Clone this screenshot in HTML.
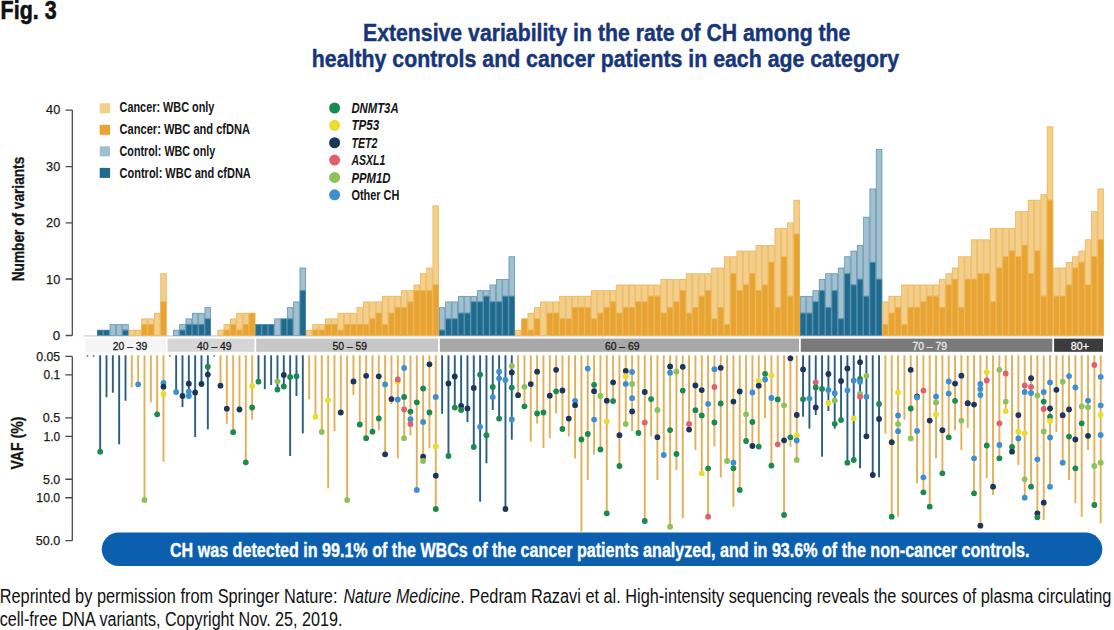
<!DOCTYPE html><html><head><meta charset="utf-8"><style>html,body{margin:0;padding:0;background:#fff;width:1114px;height:630px;overflow:hidden}svg{display:block}text{font-family:"Liberation Sans",sans-serif}</style></head><body>
<svg width="1114" height="630" viewBox="0 0 1114 630">
<rect width="1114" height="630" fill="#fff"/>
<text x="0.60" y="18.90" font-size="26.2" font-weight="bold" font-style="normal" fill="#111" text-anchor="start" textLength="56.00" lengthAdjust="spacingAndGlyphs" stroke="#111" stroke-width="0.6">Fig. 3</text>
<text x="363.00" y="40.80" font-size="24.5" font-weight="bold" font-style="normal" fill="#173679" text-anchor="start" textLength="487.40" lengthAdjust="spacingAndGlyphs" stroke="#173679" stroke-width="0.45">Extensive variability in the rate of CH among the</text>
<text x="311.80" y="66.50" font-size="24.5" font-weight="bold" font-style="normal" fill="#173679" text-anchor="start" textLength="587.30" lengthAdjust="spacingAndGlyphs" stroke="#173679" stroke-width="0.45">healthy controls and cancer patients in each age category</text>
<rect x="99.7" y="103.25" width="10.4" height="10.0" fill="#f3cf8b"/>
<text x="119.60" y="111.70" font-size="13.8" font-weight="bold" font-style="normal" fill="#151515" text-anchor="start" textLength="94.80" lengthAdjust="spacingAndGlyphs">Cancer: WBC only</text>
<rect x="99.7" y="124.80" width="10.4" height="10.0" fill="#e8a330"/>
<text x="119.60" y="133.75" font-size="13.8" font-weight="bold" font-style="normal" fill="#151515" text-anchor="start" textLength="130.40" lengthAdjust="spacingAndGlyphs">Cancer: WBC and cfDNA</text>
<rect x="99.7" y="146.35" width="10.4" height="10.0" fill="#a0bfcf"/>
<text x="119.60" y="155.80" font-size="13.8" font-weight="bold" font-style="normal" fill="#151515" text-anchor="start" textLength="95.60" lengthAdjust="spacingAndGlyphs">Control: WBC only</text>
<rect x="99.7" y="167.90" width="10.4" height="10.0" fill="#1f6a8f"/>
<text x="119.60" y="177.85" font-size="13.8" font-weight="bold" font-style="normal" fill="#151515" text-anchor="start" textLength="131.20" lengthAdjust="spacingAndGlyphs">Control: WBC and cfDNA</text>
<circle cx="334.6" cy="108.00" r="5.5" fill="#1b8a4f"/>
<text x="351.40" y="112.70" font-size="15.0" font-weight="bold" font-style="italic" fill="#151515" text-anchor="start" textLength="47.20" lengthAdjust="spacingAndGlyphs">DNMT3A</text>
<circle cx="334.6" cy="125.37" r="5.5" fill="#e9dc2e"/>
<text x="351.40" y="130.15" font-size="15.0" font-weight="bold" font-style="italic" fill="#151515" text-anchor="start" textLength="27.80" lengthAdjust="spacingAndGlyphs">TP53</text>
<circle cx="334.6" cy="142.74" r="5.5" fill="#1c3558"/>
<text x="351.40" y="147.60" font-size="15.0" font-weight="bold" font-style="italic" fill="#151515" text-anchor="start" textLength="26.00" lengthAdjust="spacingAndGlyphs">TET2</text>
<circle cx="334.6" cy="160.11" r="5.5" fill="#e2606e"/>
<text x="351.40" y="165.05" font-size="15.0" font-weight="bold" font-style="italic" fill="#151515" text-anchor="start" textLength="33.90" lengthAdjust="spacingAndGlyphs">ASXL1</text>
<circle cx="334.6" cy="177.48" r="5.5" fill="#8dc159"/>
<text x="351.40" y="182.50" font-size="15.0" font-weight="bold" font-style="italic" fill="#151515" text-anchor="start" textLength="39.10" lengthAdjust="spacingAndGlyphs">PPM1D</text>
<circle cx="334.6" cy="194.85" r="5.5" fill="#3d8fcf"/>
<text x="351.40" y="199.95" font-size="15.0" font-weight="bold" font-style="normal" fill="#151515" text-anchor="start" textLength="47.90" lengthAdjust="spacingAndGlyphs">Other CH</text>
<path d="M72.3 110.1 V335.5 M65.6 110.1 H72.3 M65.6 166.6 H72.3 M65.6 222.8 H72.3 M65.6 279 H72.3 M65.6 335.5 H72.3" stroke="#4a4a4a" stroke-width="1.3" fill="none"/>
<text x="60.20" y="340.20" font-size="13.6" font-weight="normal" font-style="normal" fill="#1a1a1a" text-anchor="end" textLength="7.40" lengthAdjust="spacingAndGlyphs" stroke="#1a1a1a" stroke-width="0.25">0</text>
<text x="60.20" y="283.70" font-size="13.6" font-weight="normal" font-style="normal" fill="#1a1a1a" text-anchor="end" textLength="14.10" lengthAdjust="spacingAndGlyphs" stroke="#1a1a1a" stroke-width="0.25">10</text>
<text x="60.20" y="227.20" font-size="13.6" font-weight="normal" font-style="normal" fill="#1a1a1a" text-anchor="end" textLength="14.10" lengthAdjust="spacingAndGlyphs" stroke="#1a1a1a" stroke-width="0.25">20</text>
<text x="60.20" y="170.70" font-size="13.6" font-weight="normal" font-style="normal" fill="#1a1a1a" text-anchor="end" textLength="14.10" lengthAdjust="spacingAndGlyphs" stroke="#1a1a1a" stroke-width="0.25">30</text>
<text x="60.20" y="114.20" font-size="13.6" font-weight="normal" font-style="normal" fill="#1a1a1a" text-anchor="end" textLength="14.10" lengthAdjust="spacingAndGlyphs" stroke="#1a1a1a" stroke-width="0.25">40</text>
<text transform="translate(23.6,219) rotate(-90)" x="0" y="0" font-size="16.8" font-weight="bold" fill="#151515" stroke="#151515" stroke-width="0.3" text-anchor="middle" textLength="124.5" lengthAdjust="spacingAndGlyphs">Number of variants</text>
<rect x="84" y="335.3" width="1020" height="1.2" fill="#c9c9c9"/>
<g shape-rendering="auto"><rect x="97.00" y="329.85" width="6.332" height="5.65" fill="#1f6a8f"/><rect x="103.33" y="329.85" width="6.332" height="5.65" fill="#1f6a8f"/><rect x="109.66" y="324.20" width="6.332" height="11.30" fill="#a0bfcf"/><rect x="116.00" y="324.20" width="6.332" height="11.30" fill="#a0bfcf"/><rect x="122.33" y="324.20" width="6.332" height="5.65" fill="#a0bfcf"/><rect x="122.33" y="329.85" width="6.332" height="5.65" fill="#1f6a8f"/><rect x="128.66" y="329.85" width="6.332" height="5.65" fill="#f3cf8b"/><rect x="134.99" y="329.85" width="6.332" height="5.65" fill="#f3cf8b"/><rect x="141.33" y="318.55" width="6.332" height="5.65" fill="#f3cf8b"/><rect x="141.33" y="324.20" width="6.332" height="11.30" fill="#e8a330"/><rect x="147.66" y="318.55" width="6.332" height="5.65" fill="#f3cf8b"/><rect x="147.66" y="324.20" width="6.332" height="11.30" fill="#e8a330"/><rect x="153.99" y="312.90" width="6.332" height="22.60" fill="#f3cf8b"/><rect x="160.32" y="273.35" width="6.332" height="28.25" fill="#f3cf8b"/><rect x="160.32" y="301.60" width="6.332" height="33.90" fill="#e8a330"/><rect x="172.99" y="329.85" width="6.332" height="5.65" fill="#a0bfcf"/><rect x="179.32" y="324.20" width="6.332" height="5.65" fill="#a0bfcf"/><rect x="179.32" y="329.85" width="6.332" height="5.65" fill="#1f6a8f"/><rect x="185.65" y="318.55" width="6.332" height="5.65" fill="#a0bfcf"/><rect x="185.65" y="324.20" width="6.332" height="11.30" fill="#1f6a8f"/><rect x="191.99" y="312.90" width="6.332" height="11.30" fill="#a0bfcf"/><rect x="191.99" y="324.20" width="6.332" height="11.30" fill="#1f6a8f"/><rect x="198.32" y="312.90" width="6.332" height="11.30" fill="#a0bfcf"/><rect x="198.32" y="324.20" width="6.332" height="11.30" fill="#1f6a8f"/><rect x="204.65" y="307.25" width="6.332" height="11.30" fill="#a0bfcf"/><rect x="204.65" y="318.55" width="6.332" height="16.95" fill="#1f6a8f"/><rect x="217.32" y="329.85" width="6.332" height="5.65" fill="#f3cf8b"/><rect x="223.65" y="324.20" width="6.332" height="5.65" fill="#f3cf8b"/><rect x="223.65" y="329.85" width="6.332" height="5.65" fill="#e8a330"/><rect x="229.98" y="318.55" width="6.332" height="5.65" fill="#f3cf8b"/><rect x="229.98" y="324.20" width="6.332" height="11.30" fill="#e8a330"/><rect x="236.31" y="312.90" width="6.332" height="16.95" fill="#f3cf8b"/><rect x="236.31" y="329.85" width="6.332" height="5.65" fill="#e8a330"/><rect x="242.65" y="312.90" width="6.332" height="11.30" fill="#f3cf8b"/><rect x="242.65" y="324.20" width="6.332" height="11.30" fill="#e8a330"/><rect x="248.98" y="312.90" width="6.332" height="22.60" fill="#e8a330"/><rect x="255.31" y="324.20" width="6.332" height="11.30" fill="#1f6a8f"/><rect x="261.64" y="324.20" width="6.332" height="11.30" fill="#1f6a8f"/><rect x="267.98" y="324.20" width="6.332" height="11.30" fill="#1f6a8f"/><rect x="274.31" y="318.55" width="6.332" height="16.95" fill="#a0bfcf"/><rect x="280.64" y="318.55" width="6.332" height="16.95" fill="#1f6a8f"/><rect x="286.97" y="307.25" width="6.332" height="11.30" fill="#a0bfcf"/><rect x="286.97" y="318.55" width="6.332" height="16.95" fill="#1f6a8f"/><rect x="293.31" y="301.60" width="6.332" height="33.90" fill="#a0bfcf"/><rect x="299.64" y="267.70" width="6.332" height="22.60" fill="#a0bfcf"/><rect x="299.64" y="290.30" width="6.332" height="45.20" fill="#1f6a8f"/><rect x="305.97" y="329.85" width="6.332" height="5.65" fill="#f3cf8b"/><rect x="312.30" y="324.20" width="6.332" height="5.65" fill="#f3cf8b"/><rect x="312.30" y="329.85" width="6.332" height="5.65" fill="#e8a330"/><rect x="318.64" y="324.20" width="6.332" height="5.65" fill="#f3cf8b"/><rect x="318.64" y="329.85" width="6.332" height="5.65" fill="#e8a330"/><rect x="324.97" y="318.55" width="6.332" height="5.65" fill="#f3cf8b"/><rect x="324.97" y="324.20" width="6.332" height="11.30" fill="#e8a330"/><rect x="331.30" y="318.55" width="6.332" height="5.65" fill="#f3cf8b"/><rect x="331.30" y="324.20" width="6.332" height="11.30" fill="#e8a330"/><rect x="337.63" y="312.90" width="6.332" height="16.95" fill="#f3cf8b"/><rect x="337.63" y="329.85" width="6.332" height="5.65" fill="#e8a330"/><rect x="343.97" y="312.90" width="6.332" height="11.30" fill="#f3cf8b"/><rect x="343.97" y="324.20" width="6.332" height="11.30" fill="#e8a330"/><rect x="350.30" y="312.90" width="6.332" height="11.30" fill="#f3cf8b"/><rect x="350.30" y="324.20" width="6.332" height="11.30" fill="#e8a330"/><rect x="356.63" y="307.25" width="6.332" height="16.95" fill="#f3cf8b"/><rect x="356.63" y="324.20" width="6.332" height="11.30" fill="#e8a330"/><rect x="362.96" y="301.60" width="6.332" height="22.60" fill="#f3cf8b"/><rect x="362.96" y="324.20" width="6.332" height="11.30" fill="#e8a330"/><rect x="369.30" y="301.60" width="6.332" height="16.95" fill="#f3cf8b"/><rect x="369.30" y="318.55" width="6.332" height="16.95" fill="#e8a330"/><rect x="375.63" y="301.60" width="6.332" height="11.30" fill="#f3cf8b"/><rect x="375.63" y="312.90" width="6.332" height="22.60" fill="#e8a330"/><rect x="381.96" y="295.95" width="6.332" height="28.25" fill="#f3cf8b"/><rect x="381.96" y="324.20" width="6.332" height="11.30" fill="#e8a330"/><rect x="388.29" y="295.95" width="6.332" height="16.95" fill="#f3cf8b"/><rect x="388.29" y="312.90" width="6.332" height="22.60" fill="#e8a330"/><rect x="394.63" y="295.95" width="6.332" height="11.30" fill="#f3cf8b"/><rect x="394.63" y="307.25" width="6.332" height="28.25" fill="#e8a330"/><rect x="400.96" y="290.30" width="6.332" height="16.95" fill="#f3cf8b"/><rect x="400.96" y="307.25" width="6.332" height="28.25" fill="#e8a330"/><rect x="407.29" y="290.30" width="6.332" height="11.30" fill="#f3cf8b"/><rect x="407.29" y="301.60" width="6.332" height="33.90" fill="#e8a330"/><rect x="413.62" y="284.65" width="6.332" height="5.65" fill="#f3cf8b"/><rect x="413.62" y="290.30" width="6.332" height="45.20" fill="#e8a330"/><rect x="419.96" y="273.35" width="6.332" height="16.95" fill="#f3cf8b"/><rect x="419.96" y="290.30" width="6.332" height="45.20" fill="#e8a330"/><rect x="426.29" y="267.70" width="6.332" height="22.60" fill="#f3cf8b"/><rect x="426.29" y="290.30" width="6.332" height="45.20" fill="#e8a330"/><rect x="432.62" y="205.55" width="6.332" height="79.10" fill="#f3cf8b"/><rect x="432.62" y="284.65" width="6.332" height="50.85" fill="#e8a330"/><rect x="438.95" y="307.25" width="6.332" height="22.60" fill="#a0bfcf"/><rect x="438.95" y="329.85" width="6.332" height="5.65" fill="#1f6a8f"/><rect x="445.29" y="301.60" width="6.332" height="16.95" fill="#a0bfcf"/><rect x="445.29" y="318.55" width="6.332" height="16.95" fill="#1f6a8f"/><rect x="451.62" y="301.60" width="6.332" height="16.95" fill="#a0bfcf"/><rect x="451.62" y="318.55" width="6.332" height="16.95" fill="#1f6a8f"/><rect x="457.95" y="295.95" width="6.332" height="16.95" fill="#a0bfcf"/><rect x="457.95" y="312.90" width="6.332" height="22.60" fill="#1f6a8f"/><rect x="464.28" y="295.95" width="6.332" height="16.95" fill="#a0bfcf"/><rect x="464.28" y="312.90" width="6.332" height="22.60" fill="#1f6a8f"/><rect x="470.62" y="295.95" width="6.332" height="5.65" fill="#a0bfcf"/><rect x="470.62" y="301.60" width="6.332" height="33.90" fill="#1f6a8f"/><rect x="476.95" y="290.30" width="6.332" height="11.30" fill="#a0bfcf"/><rect x="476.95" y="301.60" width="6.332" height="33.90" fill="#1f6a8f"/><rect x="483.28" y="290.30" width="6.332" height="5.65" fill="#a0bfcf"/><rect x="483.28" y="295.95" width="6.332" height="39.55" fill="#1f6a8f"/><rect x="489.61" y="284.65" width="6.332" height="16.95" fill="#a0bfcf"/><rect x="489.61" y="301.60" width="6.332" height="33.90" fill="#1f6a8f"/><rect x="495.95" y="279.00" width="6.332" height="22.60" fill="#a0bfcf"/><rect x="495.95" y="301.60" width="6.332" height="33.90" fill="#1f6a8f"/><rect x="502.28" y="279.00" width="6.332" height="16.95" fill="#a0bfcf"/><rect x="502.28" y="295.95" width="6.332" height="39.55" fill="#1f6a8f"/><rect x="508.61" y="256.40" width="6.332" height="39.55" fill="#a0bfcf"/><rect x="508.61" y="295.95" width="6.332" height="39.55" fill="#1f6a8f"/><rect x="514.94" y="329.85" width="6.332" height="5.65" fill="#f3cf8b"/><rect x="521.28" y="318.55" width="6.332" height="16.95" fill="#e8a330"/><rect x="527.61" y="312.90" width="6.332" height="16.95" fill="#f3cf8b"/><rect x="527.61" y="329.85" width="6.332" height="5.65" fill="#e8a330"/><rect x="533.94" y="307.25" width="6.332" height="11.30" fill="#f3cf8b"/><rect x="533.94" y="318.55" width="6.332" height="16.95" fill="#e8a330"/><rect x="540.27" y="301.60" width="6.332" height="33.90" fill="#f3cf8b"/><rect x="546.61" y="301.60" width="6.332" height="11.30" fill="#f3cf8b"/><rect x="546.61" y="312.90" width="6.332" height="22.60" fill="#e8a330"/><rect x="552.94" y="301.60" width="6.332" height="11.30" fill="#f3cf8b"/><rect x="552.94" y="312.90" width="6.332" height="22.60" fill="#e8a330"/><rect x="559.27" y="295.95" width="6.332" height="22.60" fill="#f3cf8b"/><rect x="559.27" y="318.55" width="6.332" height="16.95" fill="#e8a330"/><rect x="565.60" y="295.95" width="6.332" height="22.60" fill="#f3cf8b"/><rect x="565.60" y="318.55" width="6.332" height="16.95" fill="#e8a330"/><rect x="571.94" y="295.95" width="6.332" height="11.30" fill="#f3cf8b"/><rect x="571.94" y="307.25" width="6.332" height="28.25" fill="#e8a330"/><rect x="578.27" y="295.95" width="6.332" height="11.30" fill="#f3cf8b"/><rect x="578.27" y="307.25" width="6.332" height="28.25" fill="#e8a330"/><rect x="584.60" y="295.95" width="6.332" height="11.30" fill="#f3cf8b"/><rect x="584.60" y="307.25" width="6.332" height="28.25" fill="#e8a330"/><rect x="590.93" y="290.30" width="6.332" height="28.25" fill="#f3cf8b"/><rect x="590.93" y="318.55" width="6.332" height="16.95" fill="#e8a330"/><rect x="597.27" y="290.30" width="6.332" height="22.60" fill="#f3cf8b"/><rect x="597.27" y="312.90" width="6.332" height="22.60" fill="#e8a330"/><rect x="603.60" y="290.30" width="6.332" height="16.95" fill="#f3cf8b"/><rect x="603.60" y="307.25" width="6.332" height="28.25" fill="#e8a330"/><rect x="609.93" y="290.30" width="6.332" height="11.30" fill="#f3cf8b"/><rect x="609.93" y="301.60" width="6.332" height="33.90" fill="#e8a330"/><rect x="616.26" y="284.65" width="6.332" height="28.25" fill="#f3cf8b"/><rect x="616.26" y="312.90" width="6.332" height="22.60" fill="#e8a330"/><rect x="622.60" y="284.65" width="6.332" height="22.60" fill="#f3cf8b"/><rect x="622.60" y="307.25" width="6.332" height="28.25" fill="#e8a330"/><rect x="628.93" y="284.65" width="6.332" height="22.60" fill="#f3cf8b"/><rect x="628.93" y="307.25" width="6.332" height="28.25" fill="#e8a330"/><rect x="635.26" y="284.65" width="6.332" height="16.95" fill="#f3cf8b"/><rect x="635.26" y="301.60" width="6.332" height="33.90" fill="#e8a330"/><rect x="641.59" y="284.65" width="6.332" height="16.95" fill="#f3cf8b"/><rect x="641.59" y="301.60" width="6.332" height="33.90" fill="#e8a330"/><rect x="647.93" y="284.65" width="6.332" height="11.30" fill="#f3cf8b"/><rect x="647.93" y="295.95" width="6.332" height="39.55" fill="#e8a330"/><rect x="654.26" y="284.65" width="6.332" height="11.30" fill="#f3cf8b"/><rect x="654.26" y="295.95" width="6.332" height="39.55" fill="#e8a330"/><rect x="660.59" y="279.00" width="6.332" height="33.90" fill="#f3cf8b"/><rect x="660.59" y="312.90" width="6.332" height="22.60" fill="#e8a330"/><rect x="666.92" y="279.00" width="6.332" height="28.25" fill="#f3cf8b"/><rect x="666.92" y="307.25" width="6.332" height="28.25" fill="#e8a330"/><rect x="673.26" y="279.00" width="6.332" height="22.60" fill="#f3cf8b"/><rect x="673.26" y="301.60" width="6.332" height="33.90" fill="#e8a330"/><rect x="679.59" y="279.00" width="6.332" height="11.30" fill="#f3cf8b"/><rect x="679.59" y="290.30" width="6.332" height="45.20" fill="#e8a330"/><rect x="685.92" y="273.35" width="6.332" height="39.55" fill="#f3cf8b"/><rect x="685.92" y="312.90" width="6.332" height="22.60" fill="#e8a330"/><rect x="692.25" y="273.35" width="6.332" height="33.90" fill="#f3cf8b"/><rect x="692.25" y="307.25" width="6.332" height="28.25" fill="#e8a330"/><rect x="698.59" y="273.35" width="6.332" height="22.60" fill="#f3cf8b"/><rect x="698.59" y="295.95" width="6.332" height="39.55" fill="#e8a330"/><rect x="704.92" y="273.35" width="6.332" height="16.95" fill="#f3cf8b"/><rect x="704.92" y="290.30" width="6.332" height="45.20" fill="#e8a330"/><rect x="711.25" y="267.70" width="6.332" height="50.85" fill="#f3cf8b"/><rect x="711.25" y="318.55" width="6.332" height="16.95" fill="#e8a330"/><rect x="717.58" y="267.70" width="6.332" height="39.55" fill="#f3cf8b"/><rect x="717.58" y="307.25" width="6.332" height="28.25" fill="#e8a330"/><rect x="723.92" y="256.40" width="6.332" height="67.80" fill="#f3cf8b"/><rect x="723.92" y="324.20" width="6.332" height="11.30" fill="#e8a330"/><rect x="730.25" y="256.40" width="6.332" height="16.95" fill="#f3cf8b"/><rect x="730.25" y="273.35" width="6.332" height="62.15" fill="#e8a330"/><rect x="736.58" y="250.75" width="6.332" height="39.55" fill="#f3cf8b"/><rect x="736.58" y="290.30" width="6.332" height="45.20" fill="#e8a330"/><rect x="742.91" y="250.75" width="6.332" height="33.90" fill="#f3cf8b"/><rect x="742.91" y="284.65" width="6.332" height="50.85" fill="#e8a330"/><rect x="749.25" y="250.75" width="6.332" height="22.60" fill="#f3cf8b"/><rect x="749.25" y="273.35" width="6.332" height="62.15" fill="#e8a330"/><rect x="755.58" y="245.10" width="6.332" height="45.20" fill="#f3cf8b"/><rect x="755.58" y="290.30" width="6.332" height="45.20" fill="#e8a330"/><rect x="761.91" y="245.10" width="6.332" height="39.55" fill="#f3cf8b"/><rect x="761.91" y="284.65" width="6.332" height="50.85" fill="#e8a330"/><rect x="768.24" y="245.10" width="6.332" height="16.95" fill="#f3cf8b"/><rect x="768.24" y="262.05" width="6.332" height="73.45" fill="#e8a330"/><rect x="774.58" y="228.15" width="6.332" height="79.10" fill="#f3cf8b"/><rect x="774.58" y="307.25" width="6.332" height="28.25" fill="#e8a330"/><rect x="780.91" y="228.15" width="6.332" height="28.25" fill="#f3cf8b"/><rect x="780.91" y="256.40" width="6.332" height="79.10" fill="#e8a330"/><rect x="787.24" y="222.50" width="6.332" height="73.45" fill="#f3cf8b"/><rect x="787.24" y="295.95" width="6.332" height="39.55" fill="#e8a330"/><rect x="793.57" y="199.90" width="6.332" height="33.90" fill="#f3cf8b"/><rect x="793.57" y="233.80" width="6.332" height="101.70" fill="#e8a330"/><rect x="799.91" y="295.95" width="6.332" height="16.95" fill="#a0bfcf"/><rect x="799.91" y="312.90" width="6.332" height="22.60" fill="#1f6a8f"/><rect x="806.24" y="295.95" width="6.332" height="16.95" fill="#a0bfcf"/><rect x="806.24" y="312.90" width="6.332" height="22.60" fill="#1f6a8f"/><rect x="812.57" y="290.30" width="6.332" height="11.30" fill="#a0bfcf"/><rect x="812.57" y="301.60" width="6.332" height="33.90" fill="#1f6a8f"/><rect x="818.90" y="279.00" width="6.332" height="11.30" fill="#a0bfcf"/><rect x="818.90" y="290.30" width="6.332" height="45.20" fill="#1f6a8f"/><rect x="825.24" y="273.35" width="6.332" height="33.90" fill="#a0bfcf"/><rect x="825.24" y="307.25" width="6.332" height="28.25" fill="#1f6a8f"/><rect x="831.57" y="273.35" width="6.332" height="16.95" fill="#a0bfcf"/><rect x="831.57" y="290.30" width="6.332" height="45.20" fill="#1f6a8f"/><rect x="837.90" y="267.70" width="6.332" height="50.85" fill="#a0bfcf"/><rect x="837.90" y="318.55" width="6.332" height="16.95" fill="#1f6a8f"/><rect x="844.23" y="256.40" width="6.332" height="16.95" fill="#a0bfcf"/><rect x="844.23" y="273.35" width="6.332" height="62.15" fill="#1f6a8f"/><rect x="850.57" y="250.75" width="6.332" height="33.90" fill="#a0bfcf"/><rect x="850.57" y="284.65" width="6.332" height="50.85" fill="#1f6a8f"/><rect x="856.90" y="245.10" width="6.332" height="33.90" fill="#a0bfcf"/><rect x="856.90" y="279.00" width="6.332" height="56.50" fill="#1f6a8f"/><rect x="863.23" y="216.85" width="6.332" height="79.10" fill="#a0bfcf"/><rect x="863.23" y="295.95" width="6.332" height="39.55" fill="#1f6a8f"/><rect x="869.56" y="188.60" width="6.332" height="73.45" fill="#a0bfcf"/><rect x="869.56" y="262.05" width="6.332" height="73.45" fill="#1f6a8f"/><rect x="875.90" y="149.05" width="6.332" height="129.95" fill="#a0bfcf"/><rect x="875.90" y="279.00" width="6.332" height="56.50" fill="#1f6a8f"/><rect x="882.23" y="301.60" width="6.332" height="22.60" fill="#f3cf8b"/><rect x="882.23" y="324.20" width="6.332" height="11.30" fill="#e8a330"/><rect x="888.56" y="295.95" width="6.332" height="16.95" fill="#f3cf8b"/><rect x="888.56" y="312.90" width="6.332" height="22.60" fill="#e8a330"/><rect x="894.89" y="295.95" width="6.332" height="11.30" fill="#f3cf8b"/><rect x="894.89" y="307.25" width="6.332" height="28.25" fill="#e8a330"/><rect x="901.23" y="284.65" width="6.332" height="39.55" fill="#f3cf8b"/><rect x="901.23" y="324.20" width="6.332" height="11.30" fill="#e8a330"/><rect x="907.56" y="284.65" width="6.332" height="22.60" fill="#f3cf8b"/><rect x="907.56" y="307.25" width="6.332" height="28.25" fill="#e8a330"/><rect x="913.89" y="284.65" width="6.332" height="22.60" fill="#f3cf8b"/><rect x="913.89" y="307.25" width="6.332" height="28.25" fill="#e8a330"/><rect x="920.22" y="284.65" width="6.332" height="16.95" fill="#f3cf8b"/><rect x="920.22" y="301.60" width="6.332" height="33.90" fill="#e8a330"/><rect x="926.56" y="284.65" width="6.332" height="11.30" fill="#f3cf8b"/><rect x="926.56" y="295.95" width="6.332" height="39.55" fill="#e8a330"/><rect x="932.89" y="284.65" width="6.332" height="11.30" fill="#f3cf8b"/><rect x="932.89" y="295.95" width="6.332" height="39.55" fill="#e8a330"/><rect x="939.22" y="279.00" width="6.332" height="28.25" fill="#f3cf8b"/><rect x="939.22" y="307.25" width="6.332" height="28.25" fill="#e8a330"/><rect x="945.55" y="273.35" width="6.332" height="11.30" fill="#f3cf8b"/><rect x="945.55" y="284.65" width="6.332" height="50.85" fill="#e8a330"/><rect x="951.89" y="267.70" width="6.332" height="11.30" fill="#f3cf8b"/><rect x="951.89" y="279.00" width="6.332" height="56.50" fill="#e8a330"/><rect x="958.22" y="256.40" width="6.332" height="50.85" fill="#f3cf8b"/><rect x="958.22" y="307.25" width="6.332" height="28.25" fill="#e8a330"/><rect x="964.55" y="256.40" width="6.332" height="22.60" fill="#f3cf8b"/><rect x="964.55" y="279.00" width="6.332" height="56.50" fill="#e8a330"/><rect x="970.88" y="239.45" width="6.332" height="39.55" fill="#f3cf8b"/><rect x="970.88" y="279.00" width="6.332" height="56.50" fill="#e8a330"/><rect x="977.22" y="239.45" width="6.332" height="33.90" fill="#f3cf8b"/><rect x="977.22" y="273.35" width="6.332" height="62.15" fill="#e8a330"/><rect x="983.55" y="239.45" width="6.332" height="33.90" fill="#f3cf8b"/><rect x="983.55" y="273.35" width="6.332" height="62.15" fill="#e8a330"/><rect x="989.88" y="228.15" width="6.332" height="73.45" fill="#f3cf8b"/><rect x="989.88" y="301.60" width="6.332" height="33.90" fill="#e8a330"/><rect x="996.21" y="228.15" width="6.332" height="39.55" fill="#f3cf8b"/><rect x="996.21" y="267.70" width="6.332" height="67.80" fill="#e8a330"/><rect x="1002.55" y="228.15" width="6.332" height="28.25" fill="#f3cf8b"/><rect x="1002.55" y="256.40" width="6.332" height="79.10" fill="#e8a330"/><rect x="1008.88" y="228.15" width="6.332" height="22.60" fill="#f3cf8b"/><rect x="1008.88" y="250.75" width="6.332" height="84.75" fill="#e8a330"/><rect x="1015.21" y="211.20" width="6.332" height="45.20" fill="#f3cf8b"/><rect x="1015.21" y="256.40" width="6.332" height="79.10" fill="#e8a330"/><rect x="1021.54" y="211.20" width="6.332" height="33.90" fill="#f3cf8b"/><rect x="1021.54" y="245.10" width="6.332" height="90.40" fill="#e8a330"/><rect x="1027.88" y="199.90" width="6.332" height="73.45" fill="#f3cf8b"/><rect x="1027.88" y="273.35" width="6.332" height="62.15" fill="#e8a330"/><rect x="1034.21" y="199.90" width="6.332" height="50.85" fill="#f3cf8b"/><rect x="1034.21" y="250.75" width="6.332" height="84.75" fill="#e8a330"/><rect x="1040.54" y="194.25" width="6.332" height="101.70" fill="#f3cf8b"/><rect x="1040.54" y="295.95" width="6.332" height="39.55" fill="#e8a330"/><rect x="1046.87" y="126.45" width="6.332" height="73.45" fill="#f3cf8b"/><rect x="1046.87" y="199.90" width="6.332" height="135.60" fill="#e8a330"/><rect x="1053.21" y="267.70" width="6.332" height="28.25" fill="#f3cf8b"/><rect x="1053.21" y="295.95" width="6.332" height="39.55" fill="#e8a330"/><rect x="1059.54" y="267.70" width="6.332" height="28.25" fill="#f3cf8b"/><rect x="1059.54" y="295.95" width="6.332" height="39.55" fill="#e8a330"/><rect x="1065.87" y="262.05" width="6.332" height="22.60" fill="#f3cf8b"/><rect x="1065.87" y="284.65" width="6.332" height="50.85" fill="#e8a330"/><rect x="1072.20" y="256.40" width="6.332" height="11.30" fill="#f3cf8b"/><rect x="1072.20" y="267.70" width="6.332" height="67.80" fill="#e8a330"/><rect x="1078.54" y="250.75" width="6.332" height="11.30" fill="#f3cf8b"/><rect x="1078.54" y="262.05" width="6.332" height="73.45" fill="#e8a330"/><rect x="1084.87" y="239.45" width="6.332" height="45.20" fill="#f3cf8b"/><rect x="1084.87" y="284.65" width="6.332" height="50.85" fill="#e8a330"/><rect x="1091.20" y="211.20" width="6.332" height="45.20" fill="#f3cf8b"/><rect x="1091.20" y="256.40" width="6.332" height="79.10" fill="#e8a330"/><rect x="1097.53" y="188.60" width="6.332" height="50.85" fill="#f3cf8b"/><rect x="1097.53" y="239.45" width="6.332" height="96.05" fill="#e8a330"/></g>
<g><rect x="97.40" y="330.25" width="5.532" height="5.25" fill="none" stroke="#5f93ad" stroke-width="0.8" opacity="0.8"/><rect x="103.73" y="330.25" width="5.532" height="5.25" fill="none" stroke="#5f93ad" stroke-width="0.8" opacity="0.8"/><rect x="110.06" y="324.60" width="5.532" height="10.90" fill="none" stroke="#5f93ad" stroke-width="0.8" opacity="0.8"/><rect x="116.40" y="324.60" width="5.532" height="10.90" fill="none" stroke="#5f93ad" stroke-width="0.8" opacity="0.8"/><rect x="122.73" y="324.60" width="5.532" height="5.25" fill="none" stroke="#5f93ad" stroke-width="0.8" opacity="0.8"/><rect x="122.73" y="330.25" width="5.532" height="5.25" fill="none" stroke="#5f93ad" stroke-width="0.8" opacity="0.8"/><rect x="129.06" y="330.25" width="5.532" height="5.25" fill="none" stroke="#ebb55a" stroke-width="0.8" opacity="0.8"/><rect x="135.39" y="330.25" width="5.532" height="5.25" fill="none" stroke="#ebb55a" stroke-width="0.8" opacity="0.8"/><rect x="141.73" y="318.95" width="5.532" height="5.25" fill="none" stroke="#ebb55a" stroke-width="0.8" opacity="0.8"/><rect x="141.73" y="324.60" width="5.532" height="10.90" fill="none" stroke="#ebb55a" stroke-width="0.8" opacity="0.8"/><rect x="148.06" y="318.95" width="5.532" height="5.25" fill="none" stroke="#ebb55a" stroke-width="0.8" opacity="0.8"/><rect x="148.06" y="324.60" width="5.532" height="10.90" fill="none" stroke="#ebb55a" stroke-width="0.8" opacity="0.8"/><rect x="154.39" y="313.30" width="5.532" height="22.20" fill="none" stroke="#ebb55a" stroke-width="0.8" opacity="0.8"/><rect x="160.72" y="273.75" width="5.532" height="27.85" fill="none" stroke="#ebb55a" stroke-width="0.8" opacity="0.8"/><rect x="160.72" y="302.00" width="5.532" height="33.50" fill="none" stroke="#ebb55a" stroke-width="0.8" opacity="0.8"/><rect x="173.39" y="330.25" width="5.532" height="5.25" fill="none" stroke="#5f93ad" stroke-width="0.8" opacity="0.8"/><rect x="179.72" y="324.60" width="5.532" height="5.25" fill="none" stroke="#5f93ad" stroke-width="0.8" opacity="0.8"/><rect x="179.72" y="330.25" width="5.532" height="5.25" fill="none" stroke="#5f93ad" stroke-width="0.8" opacity="0.8"/><rect x="186.05" y="318.95" width="5.532" height="5.25" fill="none" stroke="#5f93ad" stroke-width="0.8" opacity="0.8"/><rect x="186.05" y="324.60" width="5.532" height="10.90" fill="none" stroke="#5f93ad" stroke-width="0.8" opacity="0.8"/><rect x="192.39" y="313.30" width="5.532" height="10.90" fill="none" stroke="#5f93ad" stroke-width="0.8" opacity="0.8"/><rect x="192.39" y="324.60" width="5.532" height="10.90" fill="none" stroke="#5f93ad" stroke-width="0.8" opacity="0.8"/><rect x="198.72" y="313.30" width="5.532" height="10.90" fill="none" stroke="#5f93ad" stroke-width="0.8" opacity="0.8"/><rect x="198.72" y="324.60" width="5.532" height="10.90" fill="none" stroke="#5f93ad" stroke-width="0.8" opacity="0.8"/><rect x="205.05" y="307.65" width="5.532" height="10.90" fill="none" stroke="#5f93ad" stroke-width="0.8" opacity="0.8"/><rect x="205.05" y="318.95" width="5.532" height="16.55" fill="none" stroke="#5f93ad" stroke-width="0.8" opacity="0.8"/><rect x="217.72" y="330.25" width="5.532" height="5.25" fill="none" stroke="#ebb55a" stroke-width="0.8" opacity="0.8"/><rect x="224.05" y="324.60" width="5.532" height="5.25" fill="none" stroke="#ebb55a" stroke-width="0.8" opacity="0.8"/><rect x="224.05" y="330.25" width="5.532" height="5.25" fill="none" stroke="#ebb55a" stroke-width="0.8" opacity="0.8"/><rect x="230.38" y="318.95" width="5.532" height="5.25" fill="none" stroke="#ebb55a" stroke-width="0.8" opacity="0.8"/><rect x="230.38" y="324.60" width="5.532" height="10.90" fill="none" stroke="#ebb55a" stroke-width="0.8" opacity="0.8"/><rect x="236.71" y="313.30" width="5.532" height="16.55" fill="none" stroke="#ebb55a" stroke-width="0.8" opacity="0.8"/><rect x="236.71" y="330.25" width="5.532" height="5.25" fill="none" stroke="#ebb55a" stroke-width="0.8" opacity="0.8"/><rect x="243.05" y="313.30" width="5.532" height="10.90" fill="none" stroke="#ebb55a" stroke-width="0.8" opacity="0.8"/><rect x="243.05" y="324.60" width="5.532" height="10.90" fill="none" stroke="#ebb55a" stroke-width="0.8" opacity="0.8"/><rect x="249.38" y="313.30" width="5.532" height="22.20" fill="none" stroke="#ebb55a" stroke-width="0.8" opacity="0.8"/><rect x="255.71" y="324.60" width="5.532" height="10.90" fill="none" stroke="#5f93ad" stroke-width="0.8" opacity="0.8"/><rect x="262.04" y="324.60" width="5.532" height="10.90" fill="none" stroke="#5f93ad" stroke-width="0.8" opacity="0.8"/><rect x="268.38" y="324.60" width="5.532" height="10.90" fill="none" stroke="#5f93ad" stroke-width="0.8" opacity="0.8"/><rect x="274.71" y="318.95" width="5.532" height="16.55" fill="none" stroke="#5f93ad" stroke-width="0.8" opacity="0.8"/><rect x="281.04" y="318.95" width="5.532" height="16.55" fill="none" stroke="#5f93ad" stroke-width="0.8" opacity="0.8"/><rect x="287.37" y="307.65" width="5.532" height="10.90" fill="none" stroke="#5f93ad" stroke-width="0.8" opacity="0.8"/><rect x="287.37" y="318.95" width="5.532" height="16.55" fill="none" stroke="#5f93ad" stroke-width="0.8" opacity="0.8"/><rect x="293.71" y="302.00" width="5.532" height="33.50" fill="none" stroke="#5f93ad" stroke-width="0.8" opacity="0.8"/><rect x="300.04" y="268.10" width="5.532" height="22.20" fill="none" stroke="#5f93ad" stroke-width="0.8" opacity="0.8"/><rect x="300.04" y="290.70" width="5.532" height="44.80" fill="none" stroke="#5f93ad" stroke-width="0.8" opacity="0.8"/><rect x="306.37" y="330.25" width="5.532" height="5.25" fill="none" stroke="#ebb55a" stroke-width="0.8" opacity="0.8"/><rect x="312.70" y="324.60" width="5.532" height="5.25" fill="none" stroke="#ebb55a" stroke-width="0.8" opacity="0.8"/><rect x="312.70" y="330.25" width="5.532" height="5.25" fill="none" stroke="#ebb55a" stroke-width="0.8" opacity="0.8"/><rect x="319.04" y="324.60" width="5.532" height="5.25" fill="none" stroke="#ebb55a" stroke-width="0.8" opacity="0.8"/><rect x="319.04" y="330.25" width="5.532" height="5.25" fill="none" stroke="#ebb55a" stroke-width="0.8" opacity="0.8"/><rect x="325.37" y="318.95" width="5.532" height="5.25" fill="none" stroke="#ebb55a" stroke-width="0.8" opacity="0.8"/><rect x="325.37" y="324.60" width="5.532" height="10.90" fill="none" stroke="#ebb55a" stroke-width="0.8" opacity="0.8"/><rect x="331.70" y="318.95" width="5.532" height="5.25" fill="none" stroke="#ebb55a" stroke-width="0.8" opacity="0.8"/><rect x="331.70" y="324.60" width="5.532" height="10.90" fill="none" stroke="#ebb55a" stroke-width="0.8" opacity="0.8"/><rect x="338.03" y="313.30" width="5.532" height="16.55" fill="none" stroke="#ebb55a" stroke-width="0.8" opacity="0.8"/><rect x="338.03" y="330.25" width="5.532" height="5.25" fill="none" stroke="#ebb55a" stroke-width="0.8" opacity="0.8"/><rect x="344.37" y="313.30" width="5.532" height="10.90" fill="none" stroke="#ebb55a" stroke-width="0.8" opacity="0.8"/><rect x="344.37" y="324.60" width="5.532" height="10.90" fill="none" stroke="#ebb55a" stroke-width="0.8" opacity="0.8"/><rect x="350.70" y="313.30" width="5.532" height="10.90" fill="none" stroke="#ebb55a" stroke-width="0.8" opacity="0.8"/><rect x="350.70" y="324.60" width="5.532" height="10.90" fill="none" stroke="#ebb55a" stroke-width="0.8" opacity="0.8"/><rect x="357.03" y="307.65" width="5.532" height="16.55" fill="none" stroke="#ebb55a" stroke-width="0.8" opacity="0.8"/><rect x="357.03" y="324.60" width="5.532" height="10.90" fill="none" stroke="#ebb55a" stroke-width="0.8" opacity="0.8"/><rect x="363.36" y="302.00" width="5.532" height="22.20" fill="none" stroke="#ebb55a" stroke-width="0.8" opacity="0.8"/><rect x="363.36" y="324.60" width="5.532" height="10.90" fill="none" stroke="#ebb55a" stroke-width="0.8" opacity="0.8"/><rect x="369.70" y="302.00" width="5.532" height="16.55" fill="none" stroke="#ebb55a" stroke-width="0.8" opacity="0.8"/><rect x="369.70" y="318.95" width="5.532" height="16.55" fill="none" stroke="#ebb55a" stroke-width="0.8" opacity="0.8"/><rect x="376.03" y="302.00" width="5.532" height="10.90" fill="none" stroke="#ebb55a" stroke-width="0.8" opacity="0.8"/><rect x="376.03" y="313.30" width="5.532" height="22.20" fill="none" stroke="#ebb55a" stroke-width="0.8" opacity="0.8"/><rect x="382.36" y="296.35" width="5.532" height="27.85" fill="none" stroke="#ebb55a" stroke-width="0.8" opacity="0.8"/><rect x="382.36" y="324.60" width="5.532" height="10.90" fill="none" stroke="#ebb55a" stroke-width="0.8" opacity="0.8"/><rect x="388.69" y="296.35" width="5.532" height="16.55" fill="none" stroke="#ebb55a" stroke-width="0.8" opacity="0.8"/><rect x="388.69" y="313.30" width="5.532" height="22.20" fill="none" stroke="#ebb55a" stroke-width="0.8" opacity="0.8"/><rect x="395.03" y="296.35" width="5.532" height="10.90" fill="none" stroke="#ebb55a" stroke-width="0.8" opacity="0.8"/><rect x="395.03" y="307.65" width="5.532" height="27.85" fill="none" stroke="#ebb55a" stroke-width="0.8" opacity="0.8"/><rect x="401.36" y="290.70" width="5.532" height="16.55" fill="none" stroke="#ebb55a" stroke-width="0.8" opacity="0.8"/><rect x="401.36" y="307.65" width="5.532" height="27.85" fill="none" stroke="#ebb55a" stroke-width="0.8" opacity="0.8"/><rect x="407.69" y="290.70" width="5.532" height="10.90" fill="none" stroke="#ebb55a" stroke-width="0.8" opacity="0.8"/><rect x="407.69" y="302.00" width="5.532" height="33.50" fill="none" stroke="#ebb55a" stroke-width="0.8" opacity="0.8"/><rect x="414.02" y="285.05" width="5.532" height="5.25" fill="none" stroke="#ebb55a" stroke-width="0.8" opacity="0.8"/><rect x="414.02" y="290.70" width="5.532" height="44.80" fill="none" stroke="#ebb55a" stroke-width="0.8" opacity="0.8"/><rect x="420.36" y="273.75" width="5.532" height="16.55" fill="none" stroke="#ebb55a" stroke-width="0.8" opacity="0.8"/><rect x="420.36" y="290.70" width="5.532" height="44.80" fill="none" stroke="#ebb55a" stroke-width="0.8" opacity="0.8"/><rect x="426.69" y="268.10" width="5.532" height="22.20" fill="none" stroke="#ebb55a" stroke-width="0.8" opacity="0.8"/><rect x="426.69" y="290.70" width="5.532" height="44.80" fill="none" stroke="#ebb55a" stroke-width="0.8" opacity="0.8"/><rect x="433.02" y="205.95" width="5.532" height="78.70" fill="none" stroke="#ebb55a" stroke-width="0.8" opacity="0.8"/><rect x="433.02" y="285.05" width="5.532" height="50.45" fill="none" stroke="#ebb55a" stroke-width="0.8" opacity="0.8"/><rect x="439.35" y="307.65" width="5.532" height="22.20" fill="none" stroke="#5f93ad" stroke-width="0.8" opacity="0.8"/><rect x="439.35" y="330.25" width="5.532" height="5.25" fill="none" stroke="#5f93ad" stroke-width="0.8" opacity="0.8"/><rect x="445.69" y="302.00" width="5.532" height="16.55" fill="none" stroke="#5f93ad" stroke-width="0.8" opacity="0.8"/><rect x="445.69" y="318.95" width="5.532" height="16.55" fill="none" stroke="#5f93ad" stroke-width="0.8" opacity="0.8"/><rect x="452.02" y="302.00" width="5.532" height="16.55" fill="none" stroke="#5f93ad" stroke-width="0.8" opacity="0.8"/><rect x="452.02" y="318.95" width="5.532" height="16.55" fill="none" stroke="#5f93ad" stroke-width="0.8" opacity="0.8"/><rect x="458.35" y="296.35" width="5.532" height="16.55" fill="none" stroke="#5f93ad" stroke-width="0.8" opacity="0.8"/><rect x="458.35" y="313.30" width="5.532" height="22.20" fill="none" stroke="#5f93ad" stroke-width="0.8" opacity="0.8"/><rect x="464.68" y="296.35" width="5.532" height="16.55" fill="none" stroke="#5f93ad" stroke-width="0.8" opacity="0.8"/><rect x="464.68" y="313.30" width="5.532" height="22.20" fill="none" stroke="#5f93ad" stroke-width="0.8" opacity="0.8"/><rect x="471.02" y="296.35" width="5.532" height="5.25" fill="none" stroke="#5f93ad" stroke-width="0.8" opacity="0.8"/><rect x="471.02" y="302.00" width="5.532" height="33.50" fill="none" stroke="#5f93ad" stroke-width="0.8" opacity="0.8"/><rect x="477.35" y="290.70" width="5.532" height="10.90" fill="none" stroke="#5f93ad" stroke-width="0.8" opacity="0.8"/><rect x="477.35" y="302.00" width="5.532" height="33.50" fill="none" stroke="#5f93ad" stroke-width="0.8" opacity="0.8"/><rect x="483.68" y="290.70" width="5.532" height="5.25" fill="none" stroke="#5f93ad" stroke-width="0.8" opacity="0.8"/><rect x="483.68" y="296.35" width="5.532" height="39.15" fill="none" stroke="#5f93ad" stroke-width="0.8" opacity="0.8"/><rect x="490.01" y="285.05" width="5.532" height="16.55" fill="none" stroke="#5f93ad" stroke-width="0.8" opacity="0.8"/><rect x="490.01" y="302.00" width="5.532" height="33.50" fill="none" stroke="#5f93ad" stroke-width="0.8" opacity="0.8"/><rect x="496.35" y="279.40" width="5.532" height="22.20" fill="none" stroke="#5f93ad" stroke-width="0.8" opacity="0.8"/><rect x="496.35" y="302.00" width="5.532" height="33.50" fill="none" stroke="#5f93ad" stroke-width="0.8" opacity="0.8"/><rect x="502.68" y="279.40" width="5.532" height="16.55" fill="none" stroke="#5f93ad" stroke-width="0.8" opacity="0.8"/><rect x="502.68" y="296.35" width="5.532" height="39.15" fill="none" stroke="#5f93ad" stroke-width="0.8" opacity="0.8"/><rect x="509.01" y="256.80" width="5.532" height="39.15" fill="none" stroke="#5f93ad" stroke-width="0.8" opacity="0.8"/><rect x="509.01" y="296.35" width="5.532" height="39.15" fill="none" stroke="#5f93ad" stroke-width="0.8" opacity="0.8"/><rect x="515.34" y="330.25" width="5.532" height="5.25" fill="none" stroke="#ebb55a" stroke-width="0.8" opacity="0.8"/><rect x="521.68" y="318.95" width="5.532" height="16.55" fill="none" stroke="#ebb55a" stroke-width="0.8" opacity="0.8"/><rect x="528.01" y="313.30" width="5.532" height="16.55" fill="none" stroke="#ebb55a" stroke-width="0.8" opacity="0.8"/><rect x="528.01" y="330.25" width="5.532" height="5.25" fill="none" stroke="#ebb55a" stroke-width="0.8" opacity="0.8"/><rect x="534.34" y="307.65" width="5.532" height="10.90" fill="none" stroke="#ebb55a" stroke-width="0.8" opacity="0.8"/><rect x="534.34" y="318.95" width="5.532" height="16.55" fill="none" stroke="#ebb55a" stroke-width="0.8" opacity="0.8"/><rect x="540.67" y="302.00" width="5.532" height="33.50" fill="none" stroke="#ebb55a" stroke-width="0.8" opacity="0.8"/><rect x="547.01" y="302.00" width="5.532" height="10.90" fill="none" stroke="#ebb55a" stroke-width="0.8" opacity="0.8"/><rect x="547.01" y="313.30" width="5.532" height="22.20" fill="none" stroke="#ebb55a" stroke-width="0.8" opacity="0.8"/><rect x="553.34" y="302.00" width="5.532" height="10.90" fill="none" stroke="#ebb55a" stroke-width="0.8" opacity="0.8"/><rect x="553.34" y="313.30" width="5.532" height="22.20" fill="none" stroke="#ebb55a" stroke-width="0.8" opacity="0.8"/><rect x="559.67" y="296.35" width="5.532" height="22.20" fill="none" stroke="#ebb55a" stroke-width="0.8" opacity="0.8"/><rect x="559.67" y="318.95" width="5.532" height="16.55" fill="none" stroke="#ebb55a" stroke-width="0.8" opacity="0.8"/><rect x="566.00" y="296.35" width="5.532" height="22.20" fill="none" stroke="#ebb55a" stroke-width="0.8" opacity="0.8"/><rect x="566.00" y="318.95" width="5.532" height="16.55" fill="none" stroke="#ebb55a" stroke-width="0.8" opacity="0.8"/><rect x="572.34" y="296.35" width="5.532" height="10.90" fill="none" stroke="#ebb55a" stroke-width="0.8" opacity="0.8"/><rect x="572.34" y="307.65" width="5.532" height="27.85" fill="none" stroke="#ebb55a" stroke-width="0.8" opacity="0.8"/><rect x="578.67" y="296.35" width="5.532" height="10.90" fill="none" stroke="#ebb55a" stroke-width="0.8" opacity="0.8"/><rect x="578.67" y="307.65" width="5.532" height="27.85" fill="none" stroke="#ebb55a" stroke-width="0.8" opacity="0.8"/><rect x="585.00" y="296.35" width="5.532" height="10.90" fill="none" stroke="#ebb55a" stroke-width="0.8" opacity="0.8"/><rect x="585.00" y="307.65" width="5.532" height="27.85" fill="none" stroke="#ebb55a" stroke-width="0.8" opacity="0.8"/><rect x="591.33" y="290.70" width="5.532" height="27.85" fill="none" stroke="#ebb55a" stroke-width="0.8" opacity="0.8"/><rect x="591.33" y="318.95" width="5.532" height="16.55" fill="none" stroke="#ebb55a" stroke-width="0.8" opacity="0.8"/><rect x="597.67" y="290.70" width="5.532" height="22.20" fill="none" stroke="#ebb55a" stroke-width="0.8" opacity="0.8"/><rect x="597.67" y="313.30" width="5.532" height="22.20" fill="none" stroke="#ebb55a" stroke-width="0.8" opacity="0.8"/><rect x="604.00" y="290.70" width="5.532" height="16.55" fill="none" stroke="#ebb55a" stroke-width="0.8" opacity="0.8"/><rect x="604.00" y="307.65" width="5.532" height="27.85" fill="none" stroke="#ebb55a" stroke-width="0.8" opacity="0.8"/><rect x="610.33" y="290.70" width="5.532" height="10.90" fill="none" stroke="#ebb55a" stroke-width="0.8" opacity="0.8"/><rect x="610.33" y="302.00" width="5.532" height="33.50" fill="none" stroke="#ebb55a" stroke-width="0.8" opacity="0.8"/><rect x="616.66" y="285.05" width="5.532" height="27.85" fill="none" stroke="#ebb55a" stroke-width="0.8" opacity="0.8"/><rect x="616.66" y="313.30" width="5.532" height="22.20" fill="none" stroke="#ebb55a" stroke-width="0.8" opacity="0.8"/><rect x="623.00" y="285.05" width="5.532" height="22.20" fill="none" stroke="#ebb55a" stroke-width="0.8" opacity="0.8"/><rect x="623.00" y="307.65" width="5.532" height="27.85" fill="none" stroke="#ebb55a" stroke-width="0.8" opacity="0.8"/><rect x="629.33" y="285.05" width="5.532" height="22.20" fill="none" stroke="#ebb55a" stroke-width="0.8" opacity="0.8"/><rect x="629.33" y="307.65" width="5.532" height="27.85" fill="none" stroke="#ebb55a" stroke-width="0.8" opacity="0.8"/><rect x="635.66" y="285.05" width="5.532" height="16.55" fill="none" stroke="#ebb55a" stroke-width="0.8" opacity="0.8"/><rect x="635.66" y="302.00" width="5.532" height="33.50" fill="none" stroke="#ebb55a" stroke-width="0.8" opacity="0.8"/><rect x="641.99" y="285.05" width="5.532" height="16.55" fill="none" stroke="#ebb55a" stroke-width="0.8" opacity="0.8"/><rect x="641.99" y="302.00" width="5.532" height="33.50" fill="none" stroke="#ebb55a" stroke-width="0.8" opacity="0.8"/><rect x="648.33" y="285.05" width="5.532" height="10.90" fill="none" stroke="#ebb55a" stroke-width="0.8" opacity="0.8"/><rect x="648.33" y="296.35" width="5.532" height="39.15" fill="none" stroke="#ebb55a" stroke-width="0.8" opacity="0.8"/><rect x="654.66" y="285.05" width="5.532" height="10.90" fill="none" stroke="#ebb55a" stroke-width="0.8" opacity="0.8"/><rect x="654.66" y="296.35" width="5.532" height="39.15" fill="none" stroke="#ebb55a" stroke-width="0.8" opacity="0.8"/><rect x="660.99" y="279.40" width="5.532" height="33.50" fill="none" stroke="#ebb55a" stroke-width="0.8" opacity="0.8"/><rect x="660.99" y="313.30" width="5.532" height="22.20" fill="none" stroke="#ebb55a" stroke-width="0.8" opacity="0.8"/><rect x="667.32" y="279.40" width="5.532" height="27.85" fill="none" stroke="#ebb55a" stroke-width="0.8" opacity="0.8"/><rect x="667.32" y="307.65" width="5.532" height="27.85" fill="none" stroke="#ebb55a" stroke-width="0.8" opacity="0.8"/><rect x="673.66" y="279.40" width="5.532" height="22.20" fill="none" stroke="#ebb55a" stroke-width="0.8" opacity="0.8"/><rect x="673.66" y="302.00" width="5.532" height="33.50" fill="none" stroke="#ebb55a" stroke-width="0.8" opacity="0.8"/><rect x="679.99" y="279.40" width="5.532" height="10.90" fill="none" stroke="#ebb55a" stroke-width="0.8" opacity="0.8"/><rect x="679.99" y="290.70" width="5.532" height="44.80" fill="none" stroke="#ebb55a" stroke-width="0.8" opacity="0.8"/><rect x="686.32" y="273.75" width="5.532" height="39.15" fill="none" stroke="#ebb55a" stroke-width="0.8" opacity="0.8"/><rect x="686.32" y="313.30" width="5.532" height="22.20" fill="none" stroke="#ebb55a" stroke-width="0.8" opacity="0.8"/><rect x="692.65" y="273.75" width="5.532" height="33.50" fill="none" stroke="#ebb55a" stroke-width="0.8" opacity="0.8"/><rect x="692.65" y="307.65" width="5.532" height="27.85" fill="none" stroke="#ebb55a" stroke-width="0.8" opacity="0.8"/><rect x="698.99" y="273.75" width="5.532" height="22.20" fill="none" stroke="#ebb55a" stroke-width="0.8" opacity="0.8"/><rect x="698.99" y="296.35" width="5.532" height="39.15" fill="none" stroke="#ebb55a" stroke-width="0.8" opacity="0.8"/><rect x="705.32" y="273.75" width="5.532" height="16.55" fill="none" stroke="#ebb55a" stroke-width="0.8" opacity="0.8"/><rect x="705.32" y="290.70" width="5.532" height="44.80" fill="none" stroke="#ebb55a" stroke-width="0.8" opacity="0.8"/><rect x="711.65" y="268.10" width="5.532" height="50.45" fill="none" stroke="#ebb55a" stroke-width="0.8" opacity="0.8"/><rect x="711.65" y="318.95" width="5.532" height="16.55" fill="none" stroke="#ebb55a" stroke-width="0.8" opacity="0.8"/><rect x="717.98" y="268.10" width="5.532" height="39.15" fill="none" stroke="#ebb55a" stroke-width="0.8" opacity="0.8"/><rect x="717.98" y="307.65" width="5.532" height="27.85" fill="none" stroke="#ebb55a" stroke-width="0.8" opacity="0.8"/><rect x="724.32" y="256.80" width="5.532" height="67.40" fill="none" stroke="#ebb55a" stroke-width="0.8" opacity="0.8"/><rect x="724.32" y="324.60" width="5.532" height="10.90" fill="none" stroke="#ebb55a" stroke-width="0.8" opacity="0.8"/><rect x="730.65" y="256.80" width="5.532" height="16.55" fill="none" stroke="#ebb55a" stroke-width="0.8" opacity="0.8"/><rect x="730.65" y="273.75" width="5.532" height="61.75" fill="none" stroke="#ebb55a" stroke-width="0.8" opacity="0.8"/><rect x="736.98" y="251.15" width="5.532" height="39.15" fill="none" stroke="#ebb55a" stroke-width="0.8" opacity="0.8"/><rect x="736.98" y="290.70" width="5.532" height="44.80" fill="none" stroke="#ebb55a" stroke-width="0.8" opacity="0.8"/><rect x="743.31" y="251.15" width="5.532" height="33.50" fill="none" stroke="#ebb55a" stroke-width="0.8" opacity="0.8"/><rect x="743.31" y="285.05" width="5.532" height="50.45" fill="none" stroke="#ebb55a" stroke-width="0.8" opacity="0.8"/><rect x="749.65" y="251.15" width="5.532" height="22.20" fill="none" stroke="#ebb55a" stroke-width="0.8" opacity="0.8"/><rect x="749.65" y="273.75" width="5.532" height="61.75" fill="none" stroke="#ebb55a" stroke-width="0.8" opacity="0.8"/><rect x="755.98" y="245.50" width="5.532" height="44.80" fill="none" stroke="#ebb55a" stroke-width="0.8" opacity="0.8"/><rect x="755.98" y="290.70" width="5.532" height="44.80" fill="none" stroke="#ebb55a" stroke-width="0.8" opacity="0.8"/><rect x="762.31" y="245.50" width="5.532" height="39.15" fill="none" stroke="#ebb55a" stroke-width="0.8" opacity="0.8"/><rect x="762.31" y="285.05" width="5.532" height="50.45" fill="none" stroke="#ebb55a" stroke-width="0.8" opacity="0.8"/><rect x="768.64" y="245.50" width="5.532" height="16.55" fill="none" stroke="#ebb55a" stroke-width="0.8" opacity="0.8"/><rect x="768.64" y="262.45" width="5.532" height="73.05" fill="none" stroke="#ebb55a" stroke-width="0.8" opacity="0.8"/><rect x="774.98" y="228.55" width="5.532" height="78.70" fill="none" stroke="#ebb55a" stroke-width="0.8" opacity="0.8"/><rect x="774.98" y="307.65" width="5.532" height="27.85" fill="none" stroke="#ebb55a" stroke-width="0.8" opacity="0.8"/><rect x="781.31" y="228.55" width="5.532" height="27.85" fill="none" stroke="#ebb55a" stroke-width="0.8" opacity="0.8"/><rect x="781.31" y="256.80" width="5.532" height="78.70" fill="none" stroke="#ebb55a" stroke-width="0.8" opacity="0.8"/><rect x="787.64" y="222.90" width="5.532" height="73.05" fill="none" stroke="#ebb55a" stroke-width="0.8" opacity="0.8"/><rect x="787.64" y="296.35" width="5.532" height="39.15" fill="none" stroke="#ebb55a" stroke-width="0.8" opacity="0.8"/><rect x="793.97" y="200.30" width="5.532" height="33.50" fill="none" stroke="#ebb55a" stroke-width="0.8" opacity="0.8"/><rect x="793.97" y="234.20" width="5.532" height="101.30" fill="none" stroke="#ebb55a" stroke-width="0.8" opacity="0.8"/><rect x="800.31" y="296.35" width="5.532" height="16.55" fill="none" stroke="#5f93ad" stroke-width="0.8" opacity="0.8"/><rect x="800.31" y="313.30" width="5.532" height="22.20" fill="none" stroke="#5f93ad" stroke-width="0.8" opacity="0.8"/><rect x="806.64" y="296.35" width="5.532" height="16.55" fill="none" stroke="#5f93ad" stroke-width="0.8" opacity="0.8"/><rect x="806.64" y="313.30" width="5.532" height="22.20" fill="none" stroke="#5f93ad" stroke-width="0.8" opacity="0.8"/><rect x="812.97" y="290.70" width="5.532" height="10.90" fill="none" stroke="#5f93ad" stroke-width="0.8" opacity="0.8"/><rect x="812.97" y="302.00" width="5.532" height="33.50" fill="none" stroke="#5f93ad" stroke-width="0.8" opacity="0.8"/><rect x="819.30" y="279.40" width="5.532" height="10.90" fill="none" stroke="#5f93ad" stroke-width="0.8" opacity="0.8"/><rect x="819.30" y="290.70" width="5.532" height="44.80" fill="none" stroke="#5f93ad" stroke-width="0.8" opacity="0.8"/><rect x="825.64" y="273.75" width="5.532" height="33.50" fill="none" stroke="#5f93ad" stroke-width="0.8" opacity="0.8"/><rect x="825.64" y="307.65" width="5.532" height="27.85" fill="none" stroke="#5f93ad" stroke-width="0.8" opacity="0.8"/><rect x="831.97" y="273.75" width="5.532" height="16.55" fill="none" stroke="#5f93ad" stroke-width="0.8" opacity="0.8"/><rect x="831.97" y="290.70" width="5.532" height="44.80" fill="none" stroke="#5f93ad" stroke-width="0.8" opacity="0.8"/><rect x="838.30" y="268.10" width="5.532" height="50.45" fill="none" stroke="#5f93ad" stroke-width="0.8" opacity="0.8"/><rect x="838.30" y="318.95" width="5.532" height="16.55" fill="none" stroke="#5f93ad" stroke-width="0.8" opacity="0.8"/><rect x="844.63" y="256.80" width="5.532" height="16.55" fill="none" stroke="#5f93ad" stroke-width="0.8" opacity="0.8"/><rect x="844.63" y="273.75" width="5.532" height="61.75" fill="none" stroke="#5f93ad" stroke-width="0.8" opacity="0.8"/><rect x="850.97" y="251.15" width="5.532" height="33.50" fill="none" stroke="#5f93ad" stroke-width="0.8" opacity="0.8"/><rect x="850.97" y="285.05" width="5.532" height="50.45" fill="none" stroke="#5f93ad" stroke-width="0.8" opacity="0.8"/><rect x="857.30" y="245.50" width="5.532" height="33.50" fill="none" stroke="#5f93ad" stroke-width="0.8" opacity="0.8"/><rect x="857.30" y="279.40" width="5.532" height="56.10" fill="none" stroke="#5f93ad" stroke-width="0.8" opacity="0.8"/><rect x="863.63" y="217.25" width="5.532" height="78.70" fill="none" stroke="#5f93ad" stroke-width="0.8" opacity="0.8"/><rect x="863.63" y="296.35" width="5.532" height="39.15" fill="none" stroke="#5f93ad" stroke-width="0.8" opacity="0.8"/><rect x="869.96" y="189.00" width="5.532" height="73.05" fill="none" stroke="#5f93ad" stroke-width="0.8" opacity="0.8"/><rect x="869.96" y="262.45" width="5.532" height="73.05" fill="none" stroke="#5f93ad" stroke-width="0.8" opacity="0.8"/><rect x="876.30" y="149.45" width="5.532" height="129.55" fill="none" stroke="#5f93ad" stroke-width="0.8" opacity="0.8"/><rect x="876.30" y="279.40" width="5.532" height="56.10" fill="none" stroke="#5f93ad" stroke-width="0.8" opacity="0.8"/><rect x="882.63" y="302.00" width="5.532" height="22.20" fill="none" stroke="#ebb55a" stroke-width="0.8" opacity="0.8"/><rect x="882.63" y="324.60" width="5.532" height="10.90" fill="none" stroke="#ebb55a" stroke-width="0.8" opacity="0.8"/><rect x="888.96" y="296.35" width="5.532" height="16.55" fill="none" stroke="#ebb55a" stroke-width="0.8" opacity="0.8"/><rect x="888.96" y="313.30" width="5.532" height="22.20" fill="none" stroke="#ebb55a" stroke-width="0.8" opacity="0.8"/><rect x="895.29" y="296.35" width="5.532" height="10.90" fill="none" stroke="#ebb55a" stroke-width="0.8" opacity="0.8"/><rect x="895.29" y="307.65" width="5.532" height="27.85" fill="none" stroke="#ebb55a" stroke-width="0.8" opacity="0.8"/><rect x="901.63" y="285.05" width="5.532" height="39.15" fill="none" stroke="#ebb55a" stroke-width="0.8" opacity="0.8"/><rect x="901.63" y="324.60" width="5.532" height="10.90" fill="none" stroke="#ebb55a" stroke-width="0.8" opacity="0.8"/><rect x="907.96" y="285.05" width="5.532" height="22.20" fill="none" stroke="#ebb55a" stroke-width="0.8" opacity="0.8"/><rect x="907.96" y="307.65" width="5.532" height="27.85" fill="none" stroke="#ebb55a" stroke-width="0.8" opacity="0.8"/><rect x="914.29" y="285.05" width="5.532" height="22.20" fill="none" stroke="#ebb55a" stroke-width="0.8" opacity="0.8"/><rect x="914.29" y="307.65" width="5.532" height="27.85" fill="none" stroke="#ebb55a" stroke-width="0.8" opacity="0.8"/><rect x="920.62" y="285.05" width="5.532" height="16.55" fill="none" stroke="#ebb55a" stroke-width="0.8" opacity="0.8"/><rect x="920.62" y="302.00" width="5.532" height="33.50" fill="none" stroke="#ebb55a" stroke-width="0.8" opacity="0.8"/><rect x="926.96" y="285.05" width="5.532" height="10.90" fill="none" stroke="#ebb55a" stroke-width="0.8" opacity="0.8"/><rect x="926.96" y="296.35" width="5.532" height="39.15" fill="none" stroke="#ebb55a" stroke-width="0.8" opacity="0.8"/><rect x="933.29" y="285.05" width="5.532" height="10.90" fill="none" stroke="#ebb55a" stroke-width="0.8" opacity="0.8"/><rect x="933.29" y="296.35" width="5.532" height="39.15" fill="none" stroke="#ebb55a" stroke-width="0.8" opacity="0.8"/><rect x="939.62" y="279.40" width="5.532" height="27.85" fill="none" stroke="#ebb55a" stroke-width="0.8" opacity="0.8"/><rect x="939.62" y="307.65" width="5.532" height="27.85" fill="none" stroke="#ebb55a" stroke-width="0.8" opacity="0.8"/><rect x="945.95" y="273.75" width="5.532" height="10.90" fill="none" stroke="#ebb55a" stroke-width="0.8" opacity="0.8"/><rect x="945.95" y="285.05" width="5.532" height="50.45" fill="none" stroke="#ebb55a" stroke-width="0.8" opacity="0.8"/><rect x="952.29" y="268.10" width="5.532" height="10.90" fill="none" stroke="#ebb55a" stroke-width="0.8" opacity="0.8"/><rect x="952.29" y="279.40" width="5.532" height="56.10" fill="none" stroke="#ebb55a" stroke-width="0.8" opacity="0.8"/><rect x="958.62" y="256.80" width="5.532" height="50.45" fill="none" stroke="#ebb55a" stroke-width="0.8" opacity="0.8"/><rect x="958.62" y="307.65" width="5.532" height="27.85" fill="none" stroke="#ebb55a" stroke-width="0.8" opacity="0.8"/><rect x="964.95" y="256.80" width="5.532" height="22.20" fill="none" stroke="#ebb55a" stroke-width="0.8" opacity="0.8"/><rect x="964.95" y="279.40" width="5.532" height="56.10" fill="none" stroke="#ebb55a" stroke-width="0.8" opacity="0.8"/><rect x="971.28" y="239.85" width="5.532" height="39.15" fill="none" stroke="#ebb55a" stroke-width="0.8" opacity="0.8"/><rect x="971.28" y="279.40" width="5.532" height="56.10" fill="none" stroke="#ebb55a" stroke-width="0.8" opacity="0.8"/><rect x="977.62" y="239.85" width="5.532" height="33.50" fill="none" stroke="#ebb55a" stroke-width="0.8" opacity="0.8"/><rect x="977.62" y="273.75" width="5.532" height="61.75" fill="none" stroke="#ebb55a" stroke-width="0.8" opacity="0.8"/><rect x="983.95" y="239.85" width="5.532" height="33.50" fill="none" stroke="#ebb55a" stroke-width="0.8" opacity="0.8"/><rect x="983.95" y="273.75" width="5.532" height="61.75" fill="none" stroke="#ebb55a" stroke-width="0.8" opacity="0.8"/><rect x="990.28" y="228.55" width="5.532" height="73.05" fill="none" stroke="#ebb55a" stroke-width="0.8" opacity="0.8"/><rect x="990.28" y="302.00" width="5.532" height="33.50" fill="none" stroke="#ebb55a" stroke-width="0.8" opacity="0.8"/><rect x="996.61" y="228.55" width="5.532" height="39.15" fill="none" stroke="#ebb55a" stroke-width="0.8" opacity="0.8"/><rect x="996.61" y="268.10" width="5.532" height="67.40" fill="none" stroke="#ebb55a" stroke-width="0.8" opacity="0.8"/><rect x="1002.95" y="228.55" width="5.532" height="27.85" fill="none" stroke="#ebb55a" stroke-width="0.8" opacity="0.8"/><rect x="1002.95" y="256.80" width="5.532" height="78.70" fill="none" stroke="#ebb55a" stroke-width="0.8" opacity="0.8"/><rect x="1009.28" y="228.55" width="5.532" height="22.20" fill="none" stroke="#ebb55a" stroke-width="0.8" opacity="0.8"/><rect x="1009.28" y="251.15" width="5.532" height="84.35" fill="none" stroke="#ebb55a" stroke-width="0.8" opacity="0.8"/><rect x="1015.61" y="211.60" width="5.532" height="44.80" fill="none" stroke="#ebb55a" stroke-width="0.8" opacity="0.8"/><rect x="1015.61" y="256.80" width="5.532" height="78.70" fill="none" stroke="#ebb55a" stroke-width="0.8" opacity="0.8"/><rect x="1021.94" y="211.60" width="5.532" height="33.50" fill="none" stroke="#ebb55a" stroke-width="0.8" opacity="0.8"/><rect x="1021.94" y="245.50" width="5.532" height="90.00" fill="none" stroke="#ebb55a" stroke-width="0.8" opacity="0.8"/><rect x="1028.28" y="200.30" width="5.532" height="73.05" fill="none" stroke="#ebb55a" stroke-width="0.8" opacity="0.8"/><rect x="1028.28" y="273.75" width="5.532" height="61.75" fill="none" stroke="#ebb55a" stroke-width="0.8" opacity="0.8"/><rect x="1034.61" y="200.30" width="5.532" height="50.45" fill="none" stroke="#ebb55a" stroke-width="0.8" opacity="0.8"/><rect x="1034.61" y="251.15" width="5.532" height="84.35" fill="none" stroke="#ebb55a" stroke-width="0.8" opacity="0.8"/><rect x="1040.94" y="194.65" width="5.532" height="101.30" fill="none" stroke="#ebb55a" stroke-width="0.8" opacity="0.8"/><rect x="1040.94" y="296.35" width="5.532" height="39.15" fill="none" stroke="#ebb55a" stroke-width="0.8" opacity="0.8"/><rect x="1047.27" y="126.85" width="5.532" height="73.05" fill="none" stroke="#ebb55a" stroke-width="0.8" opacity="0.8"/><rect x="1047.27" y="200.30" width="5.532" height="135.20" fill="none" stroke="#ebb55a" stroke-width="0.8" opacity="0.8"/><rect x="1053.61" y="268.10" width="5.532" height="27.85" fill="none" stroke="#ebb55a" stroke-width="0.8" opacity="0.8"/><rect x="1053.61" y="296.35" width="5.532" height="39.15" fill="none" stroke="#ebb55a" stroke-width="0.8" opacity="0.8"/><rect x="1059.94" y="268.10" width="5.532" height="27.85" fill="none" stroke="#ebb55a" stroke-width="0.8" opacity="0.8"/><rect x="1059.94" y="296.35" width="5.532" height="39.15" fill="none" stroke="#ebb55a" stroke-width="0.8" opacity="0.8"/><rect x="1066.27" y="262.45" width="5.532" height="22.20" fill="none" stroke="#ebb55a" stroke-width="0.8" opacity="0.8"/><rect x="1066.27" y="285.05" width="5.532" height="50.45" fill="none" stroke="#ebb55a" stroke-width="0.8" opacity="0.8"/><rect x="1072.60" y="256.80" width="5.532" height="10.90" fill="none" stroke="#ebb55a" stroke-width="0.8" opacity="0.8"/><rect x="1072.60" y="268.10" width="5.532" height="67.40" fill="none" stroke="#ebb55a" stroke-width="0.8" opacity="0.8"/><rect x="1078.94" y="251.15" width="5.532" height="10.90" fill="none" stroke="#ebb55a" stroke-width="0.8" opacity="0.8"/><rect x="1078.94" y="262.45" width="5.532" height="73.05" fill="none" stroke="#ebb55a" stroke-width="0.8" opacity="0.8"/><rect x="1085.27" y="239.85" width="5.532" height="44.80" fill="none" stroke="#ebb55a" stroke-width="0.8" opacity="0.8"/><rect x="1085.27" y="285.05" width="5.532" height="50.45" fill="none" stroke="#ebb55a" stroke-width="0.8" opacity="0.8"/><rect x="1091.60" y="211.60" width="5.532" height="44.80" fill="none" stroke="#ebb55a" stroke-width="0.8" opacity="0.8"/><rect x="1091.60" y="256.80" width="5.532" height="78.70" fill="none" stroke="#ebb55a" stroke-width="0.8" opacity="0.8"/><rect x="1097.93" y="189.00" width="5.532" height="50.45" fill="none" stroke="#ebb55a" stroke-width="0.8" opacity="0.8"/><rect x="1097.93" y="239.85" width="5.532" height="95.65" fill="none" stroke="#ebb55a" stroke-width="0.8" opacity="0.8"/></g>
<rect x="85.23" y="338.6" width="80.52" height="13.2" fill="#f5f5f5"/>
<text x="130.09" y="349.60" font-size="10.9" font-weight="normal" font-style="normal" fill="#1a1a1a" text-anchor="middle" textLength="34.60" lengthAdjust="spacingAndGlyphs" stroke="#1a1a1a" stroke-width="0.3">20 – 39</text>
<rect x="167.56" y="338.6" width="86.85" height="13.2" fill="#d6d6d6"/>
<text x="214.28" y="349.60" font-size="10.9" font-weight="normal" font-style="normal" fill="#1a1a1a" text-anchor="middle" textLength="34.60" lengthAdjust="spacingAndGlyphs" stroke="#1a1a1a" stroke-width="0.3">40 – 49</text>
<rect x="256.21" y="338.6" width="181.84" height="13.2" fill="#c7c7c7"/>
<text x="349.83" y="349.60" font-size="10.9" font-weight="normal" font-style="normal" fill="#1a1a1a" text-anchor="middle" textLength="34.60" lengthAdjust="spacingAndGlyphs" stroke="#1a1a1a" stroke-width="0.3">50 – 59</text>
<rect x="439.85" y="338.6" width="359.15" height="13.2" fill="#a8a8a8"/>
<text x="622.23" y="349.60" font-size="10.9" font-weight="normal" font-style="normal" fill="#1a1a1a" text-anchor="middle" textLength="34.60" lengthAdjust="spacingAndGlyphs" stroke="#1a1a1a" stroke-width="0.3">60 – 69</text>
<rect x="800.81" y="338.6" width="251.50" height="13.2" fill="#7a7a7a"/>
<text x="929.76" y="349.60" font-size="10.9" font-weight="normal" font-style="normal" fill="#e8e8e8" text-anchor="middle" textLength="34.60" lengthAdjust="spacingAndGlyphs" stroke="#e8e8e8" stroke-width="0.3">70 – 79</text>
<rect x="1054.11" y="338.6" width="48.86" height="13.2" fill="#3c3c3c"/>
<text x="1079.84" y="349.60" font-size="10.9" font-weight="normal" font-style="normal" fill="#f5f5f5" text-anchor="middle" textLength="18.10" lengthAdjust="spacingAndGlyphs" stroke="#f5f5f5" stroke-width="0.3">80+</text>
<path d="M72.3 356.40 V540.69 M65.3 356.40 H72.3 M65.3 374.89 H72.3 M65.3 417.83 H72.3 M65.3 436.32 H72.3 M65.3 479.26 H72.3 M65.3 497.75 H72.3 M65.3 540.69 H72.3" stroke="#4a4a4a" stroke-width="1.3" fill="none"/>
<text x="60.20" y="361.00" font-size="13.2" font-weight="normal" font-style="normal" fill="#1a1a1a" text-anchor="end" textLength="23.90" lengthAdjust="spacingAndGlyphs" stroke="#1a1a1a" stroke-width="0.25">0.05</text>
<text x="60.20" y="379.49" font-size="13.2" font-weight="normal" font-style="normal" fill="#1a1a1a" text-anchor="end" textLength="16.70" lengthAdjust="spacingAndGlyphs" stroke="#1a1a1a" stroke-width="0.25">0.1</text>
<text x="60.20" y="422.43" font-size="13.2" font-weight="normal" font-style="normal" fill="#1a1a1a" text-anchor="end" textLength="17.50" lengthAdjust="spacingAndGlyphs" stroke="#1a1a1a" stroke-width="0.25">0.5</text>
<text x="60.20" y="440.92" font-size="13.2" font-weight="normal" font-style="normal" fill="#1a1a1a" text-anchor="end" textLength="16.70" lengthAdjust="spacingAndGlyphs" stroke="#1a1a1a" stroke-width="0.25">1.0</text>
<text x="60.20" y="483.86" font-size="13.2" font-weight="normal" font-style="normal" fill="#1a1a1a" text-anchor="end" textLength="17.20" lengthAdjust="spacingAndGlyphs" stroke="#1a1a1a" stroke-width="0.25">5.0</text>
<text x="60.20" y="502.35" font-size="13.2" font-weight="normal" font-style="normal" fill="#1a1a1a" text-anchor="end" textLength="23.90" lengthAdjust="spacingAndGlyphs" stroke="#1a1a1a" stroke-width="0.25">10.0</text>
<text x="60.20" y="545.29" font-size="13.2" font-weight="normal" font-style="normal" fill="#1a1a1a" text-anchor="end" textLength="24.40" lengthAdjust="spacingAndGlyphs" stroke="#1a1a1a" stroke-width="0.25">50.0</text>
<text transform="translate(23.2,443) rotate(-90)" x="0" y="0" font-size="17" font-weight="bold" fill="#151515" stroke="#151515" stroke-width="0.3" text-anchor="middle" textLength="53" lengthAdjust="spacingAndGlyphs">VAF (%)</text>
<g><rect x="99.21" y="355.3" width="1.9" height="96.40" fill="#2a5e82"/><rect x="105.55" y="355.3" width="1.9" height="42.00" fill="#2a5e82"/><rect x="111.88" y="355.3" width="1.9" height="37.40" fill="#2a5e82"/><rect x="118.21" y="355.3" width="1.9" height="89.00" fill="#2a5e82"/><rect x="124.55" y="355.3" width="1.9" height="45.40" fill="#2a5e82"/><rect x="130.88" y="355.3" width="1.9" height="32.00" fill="#e2b056"/><rect x="137.21" y="355.3" width="1.9" height="29.00" fill="#e2b056"/><rect x="143.54" y="355.3" width="1.9" height="144.70" fill="#e2b056"/><rect x="149.88" y="355.3" width="1.9" height="47.00" fill="#e2b056"/><rect x="156.21" y="355.3" width="1.9" height="59.00" fill="#e2b056"/><rect x="162.54" y="355.3" width="1.9" height="106.40" fill="#e2b056"/><rect x="175.21" y="355.3" width="1.9" height="36.70" fill="#2a5e82"/><rect x="181.54" y="355.3" width="1.9" height="51.70" fill="#2a5e82"/><rect x="187.87" y="355.3" width="1.9" height="40.70" fill="#2a5e82"/><rect x="194.20" y="355.3" width="1.9" height="81.70" fill="#2a5e82"/><rect x="200.53" y="355.3" width="1.9" height="28.70" fill="#2a5e82"/><rect x="206.87" y="355.3" width="1.9" height="74.10" fill="#2a5e82"/><rect x="219.53" y="355.3" width="1.9" height="30.40" fill="#e2b056"/><rect x="225.87" y="355.3" width="1.9" height="68.50" fill="#e2b056"/><rect x="232.20" y="355.3" width="1.9" height="76.90" fill="#e2b056"/><rect x="238.53" y="355.3" width="1.9" height="54.20" fill="#e2b056"/><rect x="244.86" y="355.3" width="1.9" height="107.00" fill="#e2b056"/><rect x="251.19" y="355.3" width="1.9" height="64.50" fill="#e2b056"/><rect x="257.53" y="355.3" width="1.9" height="26.40" fill="#2a5e82"/><rect x="263.86" y="355.3" width="1.9" height="33.90" fill="#2a5e82"/><rect x="270.19" y="355.3" width="1.9" height="29.70" fill="#2a5e82"/><rect x="276.53" y="355.3" width="1.9" height="34.20" fill="#2a5e82"/><rect x="282.86" y="355.3" width="1.9" height="31.20" fill="#2a5e82"/><rect x="289.19" y="355.3" width="1.9" height="100.70" fill="#2a5e82"/><rect x="295.52" y="355.3" width="1.9" height="40.70" fill="#2a5e82"/><rect x="301.85" y="355.3" width="1.9" height="78.00" fill="#2a5e82"/><rect x="308.19" y="355.3" width="1.9" height="43.90" fill="#e2b056"/><rect x="314.52" y="355.3" width="1.9" height="61.40" fill="#e2b056"/><rect x="320.85" y="355.3" width="1.9" height="76.70" fill="#e2b056"/><rect x="327.19" y="355.3" width="1.9" height="133.00" fill="#e2b056"/><rect x="333.52" y="355.3" width="1.9" height="76.00" fill="#e2b056"/><rect x="339.85" y="355.3" width="1.9" height="57.20" fill="#e2b056"/><rect x="346.18" y="355.3" width="1.9" height="144.70" fill="#e2b056"/><rect x="352.51" y="355.3" width="1.9" height="39.70" fill="#e2b056"/><rect x="358.85" y="355.3" width="1.9" height="69.20" fill="#e2b056"/><rect x="365.18" y="355.3" width="1.9" height="82.90" fill="#e2b056"/><rect x="371.51" y="355.3" width="1.9" height="76.40" fill="#e2b056"/><rect x="377.84" y="355.3" width="1.9" height="75.20" fill="#e2b056"/><rect x="384.18" y="355.3" width="1.9" height="99.00" fill="#e2b056"/><rect x="390.51" y="355.3" width="1.9" height="48.70" fill="#e2b056"/><rect x="396.84" y="355.3" width="1.9" height="103.00" fill="#e2b056"/><rect x="403.18" y="355.3" width="1.9" height="82.90" fill="#e2b056"/><rect x="409.51" y="355.3" width="1.9" height="80.00" fill="#e2b056"/><rect x="415.84" y="355.3" width="1.9" height="134.70" fill="#e2b056"/><rect x="422.17" y="355.3" width="1.9" height="105.70" fill="#e2b056"/><rect x="428.50" y="355.3" width="1.9" height="93.00" fill="#e2b056"/><rect x="434.84" y="355.3" width="1.9" height="153.70" fill="#e2b056"/><rect x="441.17" y="355.3" width="1.9" height="58.50" fill="#2a5e82"/><rect x="447.50" y="355.3" width="1.9" height="100.70" fill="#2a5e82"/><rect x="453.83" y="355.3" width="1.9" height="52.30" fill="#2a5e82"/><rect x="460.17" y="355.3" width="1.9" height="54.70" fill="#2a5e82"/><rect x="466.50" y="355.3" width="1.9" height="66.90" fill="#2a5e82"/><rect x="472.83" y="355.3" width="1.9" height="91.70" fill="#2a5e82"/><rect x="479.16" y="355.3" width="1.9" height="146.40" fill="#2a5e82"/><rect x="485.50" y="355.3" width="1.9" height="108.00" fill="#2a5e82"/><rect x="491.83" y="355.3" width="1.9" height="54.70" fill="#2a5e82"/><rect x="498.16" y="355.3" width="1.9" height="63.30" fill="#2a5e82"/><rect x="504.50" y="355.3" width="1.9" height="153.70" fill="#2a5e82"/><rect x="510.83" y="355.3" width="1.9" height="84.40" fill="#2a5e82"/><rect x="517.16" y="355.3" width="1.9" height="39.90" fill="#e2b056"/><rect x="523.49" y="355.3" width="1.9" height="51.00" fill="#e2b056"/><rect x="529.82" y="355.3" width="1.9" height="86.20" fill="#e2b056"/><rect x="536.16" y="355.3" width="1.9" height="68.20" fill="#e2b056"/><rect x="542.49" y="355.3" width="1.9" height="92.70" fill="#e2b056"/><rect x="548.82" y="355.3" width="1.9" height="82.80" fill="#e2b056"/><rect x="555.15" y="355.3" width="1.9" height="58.20" fill="#e2b056"/><rect x="561.49" y="355.3" width="1.9" height="73.70" fill="#e2b056"/><rect x="567.82" y="355.3" width="1.9" height="81.20" fill="#e2b056"/><rect x="574.15" y="355.3" width="1.9" height="103.00" fill="#e2b056"/><rect x="580.48" y="355.3" width="1.9" height="176.40" fill="#e2b056"/><rect x="586.82" y="355.3" width="1.9" height="124.70" fill="#e2b056"/><rect x="593.15" y="355.3" width="1.9" height="99.20" fill="#e2b056"/><rect x="599.48" y="355.3" width="1.9" height="94.20" fill="#e2b056"/><rect x="605.81" y="355.3" width="1.9" height="158.00" fill="#e2b056"/><rect x="612.15" y="355.3" width="1.9" height="45.80" fill="#e2b056"/><rect x="618.48" y="355.3" width="1.9" height="110.70" fill="#e2b056"/><rect x="624.81" y="355.3" width="1.9" height="68.70" fill="#e2b056"/><rect x="631.14" y="355.3" width="1.9" height="75.70" fill="#e2b056"/><rect x="637.48" y="355.3" width="1.9" height="77.70" fill="#e2b056"/><rect x="643.81" y="355.3" width="1.9" height="165.70" fill="#e2b056"/><rect x="650.14" y="355.3" width="1.9" height="81.20" fill="#e2b056"/><rect x="656.47" y="355.3" width="1.9" height="124.70" fill="#e2b056"/><rect x="662.81" y="355.3" width="1.9" height="99.70" fill="#e2b056"/><rect x="669.14" y="355.3" width="1.9" height="171.40" fill="#e2b056"/><rect x="675.47" y="355.3" width="1.9" height="114.70" fill="#e2b056"/><rect x="681.80" y="355.3" width="1.9" height="163.00" fill="#e2b056"/><rect x="688.14" y="355.3" width="1.9" height="74.30" fill="#e2b056"/><rect x="694.47" y="355.3" width="1.9" height="94.70" fill="#e2b056"/><rect x="700.80" y="355.3" width="1.9" height="118.00" fill="#e2b056"/><rect x="707.13" y="355.3" width="1.9" height="161.40" fill="#e2b056"/><rect x="713.47" y="355.3" width="1.9" height="91.00" fill="#e2b056"/><rect x="719.80" y="355.3" width="1.9" height="122.20" fill="#e2b056"/><rect x="726.13" y="355.3" width="1.9" height="105.70" fill="#e2b056"/><rect x="732.46" y="355.3" width="1.9" height="151.40" fill="#e2b056"/><rect x="738.80" y="355.3" width="1.9" height="134.70" fill="#e2b056"/><rect x="745.13" y="355.3" width="1.9" height="85.70" fill="#e2b056"/><rect x="751.46" y="355.3" width="1.9" height="90.70" fill="#e2b056"/><rect x="757.79" y="355.3" width="1.9" height="91.30" fill="#e2b056"/><rect x="764.13" y="355.3" width="1.9" height="63.00" fill="#e2b056"/><rect x="770.46" y="355.3" width="1.9" height="110.40" fill="#e2b056"/><rect x="776.79" y="355.3" width="1.9" height="89.00" fill="#e2b056"/><rect x="783.12" y="355.3" width="1.9" height="159.70" fill="#e2b056"/><rect x="789.46" y="355.3" width="1.9" height="91.40" fill="#e2b056"/><rect x="795.79" y="355.3" width="1.9" height="104.70" fill="#e2b056"/><rect x="802.12" y="355.3" width="1.9" height="61.40" fill="#2a5e82"/><rect x="808.45" y="355.3" width="1.9" height="73.30" fill="#2a5e82"/><rect x="814.79" y="355.3" width="1.9" height="59.70" fill="#2a5e82"/><rect x="821.12" y="355.3" width="1.9" height="101.40" fill="#2a5e82"/><rect x="827.45" y="355.3" width="1.9" height="55.70" fill="#2a5e82"/><rect x="833.78" y="355.3" width="1.9" height="73.30" fill="#2a5e82"/><rect x="840.12" y="355.3" width="1.9" height="64.70" fill="#2a5e82"/><rect x="846.45" y="355.3" width="1.9" height="109.20" fill="#2a5e82"/><rect x="852.78" y="355.3" width="1.9" height="106.20" fill="#2a5e82"/><rect x="859.11" y="355.3" width="1.9" height="113.00" fill="#2a5e82"/><rect x="865.45" y="355.3" width="1.9" height="81.00" fill="#2a5e82"/><rect x="871.78" y="355.3" width="1.9" height="119.70" fill="#2a5e82"/><rect x="878.11" y="355.3" width="1.9" height="122.00" fill="#2a5e82"/><rect x="884.44" y="355.3" width="1.9" height="78.50" fill="#e2b056"/><rect x="890.78" y="355.3" width="1.9" height="161.40" fill="#e2b056"/><rect x="897.11" y="355.3" width="1.9" height="161.40" fill="#e2b056"/><rect x="903.44" y="355.3" width="1.9" height="64.50" fill="#e2b056"/><rect x="909.77" y="355.3" width="1.9" height="83.20" fill="#e2b056"/><rect x="916.11" y="355.3" width="1.9" height="128.00" fill="#e2b056"/><rect x="922.44" y="355.3" width="1.9" height="137.00" fill="#e2b056"/><rect x="928.77" y="355.3" width="1.9" height="151.40" fill="#e2b056"/><rect x="935.10" y="355.3" width="1.9" height="103.00" fill="#e2b056"/><rect x="941.44" y="355.3" width="1.9" height="118.00" fill="#e2b056"/><rect x="947.77" y="355.3" width="1.9" height="82.00" fill="#e2b056"/><rect x="954.10" y="355.3" width="1.9" height="74.80" fill="#e2b056"/><rect x="960.43" y="355.3" width="1.9" height="94.70" fill="#e2b056"/><rect x="966.77" y="355.3" width="1.9" height="72.70" fill="#e2b056"/><rect x="973.10" y="355.3" width="1.9" height="138.00" fill="#e2b056"/><rect x="979.43" y="355.3" width="1.9" height="170.40" fill="#e2b056"/><rect x="985.76" y="355.3" width="1.9" height="123.00" fill="#e2b056"/><rect x="992.10" y="355.3" width="1.9" height="139.70" fill="#e2b056"/><rect x="998.43" y="355.3" width="1.9" height="104.70" fill="#e2b056"/><rect x="1004.76" y="355.3" width="1.9" height="57.70" fill="#e2b056"/><rect x="1011.09" y="355.3" width="1.9" height="96.40" fill="#e2b056"/><rect x="1017.43" y="355.3" width="1.9" height="109.70" fill="#e2b056"/><rect x="1023.76" y="355.3" width="1.9" height="142.40" fill="#e2b056"/><rect x="1030.09" y="355.3" width="1.9" height="131.40" fill="#e2b056"/><rect x="1036.42" y="355.3" width="1.9" height="162.00" fill="#e2b056"/><rect x="1042.76" y="355.3" width="1.9" height="164.70" fill="#e2b056"/><rect x="1049.09" y="355.3" width="1.9" height="131.40" fill="#e2b056"/><rect x="1055.42" y="355.3" width="1.9" height="76.70" fill="#e2b056"/><rect x="1061.75" y="355.3" width="1.9" height="107.40" fill="#e2b056"/><rect x="1068.09" y="355.3" width="1.9" height="124.70" fill="#e2b056"/><rect x="1074.42" y="355.3" width="1.9" height="148.00" fill="#e2b056"/><rect x="1080.75" y="355.3" width="1.9" height="161.40" fill="#e2b056"/><rect x="1087.08" y="355.3" width="1.9" height="94.70" fill="#e2b056"/><rect x="1093.42" y="355.3" width="1.9" height="149.70" fill="#e2b056"/><rect x="1099.75" y="355.3" width="1.9" height="168.00" fill="#e2b056"/></g>
<g><circle cx="87.50" cy="355.8" r="0.9" fill="#666"/><circle cx="93.83" cy="355.8" r="0.9" fill="#666"/><circle cx="100.16" cy="451.70" r="2.9" fill="#1b8a4f"/><circle cx="138.16" cy="384.30" r="2.9" fill="#3d8fcf"/><circle cx="144.49" cy="500.00" r="2.9" fill="#8dc159"/><circle cx="157.16" cy="414.30" r="2.9" fill="#1b8a4f"/><circle cx="163.49" cy="383.00" r="2.9" fill="#3d8fcf"/><circle cx="163.49" cy="386.70" r="2.9" fill="#1c3558"/><circle cx="163.49" cy="394.00" r="2.9" fill="#e9dc2e"/><circle cx="169.82" cy="355.8" r="0.9" fill="#666"/><circle cx="176.16" cy="392.00" r="2.9" fill="#3d8fcf"/><circle cx="182.49" cy="396.00" r="2.9" fill="#1c3558"/><circle cx="188.82" cy="383.70" r="2.9" fill="#1c3558"/><circle cx="188.82" cy="391.60" r="2.9" fill="#3d8fcf"/><circle cx="188.82" cy="396.00" r="2.9" fill="#3d8fcf"/><circle cx="195.15" cy="392.50" r="2.9" fill="#1c3558"/><circle cx="201.48" cy="384.00" r="2.9" fill="#1c3558"/><circle cx="207.82" cy="366.70" r="2.9" fill="#1b8a4f"/><circle cx="207.82" cy="374.60" r="2.9" fill="#1c3558"/><circle cx="214.15" cy="355.8" r="0.9" fill="#666"/><circle cx="220.48" cy="385.70" r="2.9" fill="#1c3558"/><circle cx="226.81" cy="408.70" r="2.9" fill="#1c3558"/><circle cx="233.15" cy="432.20" r="2.9" fill="#1b8a4f"/><circle cx="239.48" cy="409.50" r="2.9" fill="#1c3558"/><circle cx="245.81" cy="462.30" r="2.9" fill="#1b8a4f"/><circle cx="252.14" cy="386.20" r="2.9" fill="#e9dc2e"/><circle cx="252.14" cy="407.50" r="2.9" fill="#1b8a4f"/><circle cx="258.48" cy="381.70" r="2.9" fill="#1b8a4f"/><circle cx="277.48" cy="381.30" r="2.9" fill="#8dc159"/><circle cx="277.48" cy="389.50" r="2.9" fill="#1b8a4f"/><circle cx="283.81" cy="375.00" r="2.9" fill="#1c3558"/><circle cx="283.81" cy="386.50" r="2.9" fill="#1b8a4f"/><circle cx="290.14" cy="377.00" r="2.9" fill="#1b8a4f"/><circle cx="296.47" cy="376.20" r="2.9" fill="#1b8a4f"/><circle cx="315.47" cy="416.70" r="2.9" fill="#e9dc2e"/><circle cx="321.80" cy="432.00" r="2.9" fill="#8dc159"/><circle cx="328.13" cy="400.30" r="2.9" fill="#e9dc2e"/><circle cx="340.80" cy="412.50" r="2.9" fill="#1c3558"/><circle cx="347.13" cy="500.00" r="2.9" fill="#8dc159"/><circle cx="353.46" cy="381.50" r="2.9" fill="#1c3558"/><circle cx="359.80" cy="424.50" r="2.9" fill="#1b8a4f"/><circle cx="366.13" cy="375.80" r="2.9" fill="#1c3558"/><circle cx="366.13" cy="438.20" r="2.9" fill="#1b8a4f"/><circle cx="372.46" cy="431.70" r="2.9" fill="#1b8a4f"/><circle cx="378.79" cy="376.30" r="2.9" fill="#1c3558"/><circle cx="378.79" cy="418.50" r="2.9" fill="#1b8a4f"/><circle cx="385.13" cy="384.40" r="2.9" fill="#3d8fcf"/><circle cx="385.13" cy="454.30" r="2.9" fill="#1c3558"/><circle cx="391.46" cy="399.10" r="2.9" fill="#1c3558"/><circle cx="397.79" cy="381.70" r="2.9" fill="#e9dc2e"/><circle cx="397.79" cy="379.50" r="2.9" fill="#e2606e"/><circle cx="397.79" cy="399.50" r="2.9" fill="#3d8fcf"/><circle cx="404.12" cy="368.00" r="2.9" fill="#3d8fcf"/><circle cx="404.12" cy="397.00" r="2.9" fill="#1b8a4f"/><circle cx="404.12" cy="409.50" r="2.9" fill="#e2606e"/><circle cx="404.12" cy="438.20" r="2.9" fill="#8dc159"/><circle cx="410.46" cy="411.60" r="2.9" fill="#1b8a4f"/><circle cx="410.46" cy="419.20" r="2.9" fill="#3d8fcf"/><circle cx="410.46" cy="423.90" r="2.9" fill="#e2606e"/><circle cx="416.79" cy="402.30" r="2.9" fill="#1b8a4f"/><circle cx="416.79" cy="490.00" r="2.9" fill="#3d8fcf"/><circle cx="423.12" cy="388.50" r="2.9" fill="#1b8a4f"/><circle cx="423.12" cy="422.00" r="2.9" fill="#3d8fcf"/><circle cx="423.12" cy="456.70" r="2.9" fill="#1c3558"/><circle cx="423.12" cy="461.00" r="2.9" fill="#8dc159"/><circle cx="429.45" cy="364.30" r="2.9" fill="#1c3558"/><circle cx="429.45" cy="412.50" r="2.9" fill="#1b8a4f"/><circle cx="435.79" cy="397.00" r="2.9" fill="#3d8fcf"/><circle cx="435.79" cy="446.50" r="2.9" fill="#e9dc2e"/><circle cx="435.79" cy="475.70" r="2.9" fill="#1c3558"/><circle cx="435.79" cy="509.00" r="2.9" fill="#1b8a4f"/><circle cx="448.45" cy="383.50" r="2.9" fill="#1c3558"/><circle cx="448.45" cy="456.00" r="2.9" fill="#1b8a4f"/><circle cx="454.78" cy="376.50" r="2.9" fill="#1c3558"/><circle cx="454.78" cy="407.60" r="2.9" fill="#1b8a4f"/><circle cx="461.12" cy="405.90" r="2.9" fill="#1c3558"/><circle cx="461.12" cy="410.00" r="2.9" fill="#1b8a4f"/><circle cx="467.45" cy="408.40" r="2.9" fill="#1c3558"/><circle cx="473.78" cy="388.00" r="2.9" fill="#1c3558"/><circle cx="473.78" cy="447.00" r="2.9" fill="#1b8a4f"/><circle cx="480.11" cy="374.60" r="2.9" fill="#1b8a4f"/><circle cx="480.11" cy="426.80" r="2.9" fill="#3d8fcf"/><circle cx="486.45" cy="435.20" r="2.9" fill="#1b8a4f"/><circle cx="492.78" cy="387.00" r="2.9" fill="#1b8a4f"/><circle cx="492.78" cy="397.10" r="2.9" fill="#3d8fcf"/><circle cx="499.11" cy="371.70" r="2.9" fill="#3d8fcf"/><circle cx="499.11" cy="378.30" r="2.9" fill="#3d8fcf"/><circle cx="499.11" cy="418.60" r="2.9" fill="#1b8a4f"/><circle cx="505.44" cy="379.90" r="2.9" fill="#3d8fcf"/><circle cx="505.44" cy="509.00" r="2.9" fill="#1c3558"/><circle cx="511.78" cy="365.90" r="2.9" fill="#8dc159"/><circle cx="511.78" cy="372.50" r="2.9" fill="#1c3558"/><circle cx="511.78" cy="387.60" r="2.9" fill="#1b8a4f"/><circle cx="511.78" cy="419.50" r="2.9" fill="#3d8fcf"/><circle cx="518.11" cy="395.20" r="2.9" fill="#1c3558"/><circle cx="524.44" cy="386.80" r="2.9" fill="#8dc159"/><circle cx="524.44" cy="406.30" r="2.9" fill="#1b8a4f"/><circle cx="530.77" cy="384.10" r="2.9" fill="#1c3558"/><circle cx="537.11" cy="371.70" r="2.9" fill="#1c3558"/><circle cx="537.11" cy="413.50" r="2.9" fill="#1b8a4f"/><circle cx="543.44" cy="412.50" r="2.9" fill="#1b8a4f"/><circle cx="549.77" cy="395.70" r="2.9" fill="#1c3558"/><circle cx="556.11" cy="369.80" r="2.9" fill="#1c3558"/><circle cx="556.11" cy="391.30" r="2.9" fill="#1b8a4f"/><circle cx="562.44" cy="390.50" r="2.9" fill="#1c3558"/><circle cx="562.44" cy="429.00" r="2.9" fill="#1b8a4f"/><circle cx="568.77" cy="418.60" r="2.9" fill="#1c3558"/><circle cx="575.10" cy="400.80" r="2.9" fill="#3d8fcf"/><circle cx="575.10" cy="405.20" r="2.9" fill="#1c3558"/><circle cx="581.43" cy="439.50" r="2.9" fill="#1b8a4f"/><circle cx="587.77" cy="368.60" r="2.9" fill="#3d8fcf"/><circle cx="587.77" cy="434.00" r="2.9" fill="#1b8a4f"/><circle cx="594.10" cy="384.80" r="2.9" fill="#1b8a4f"/><circle cx="594.10" cy="391.20" r="2.9" fill="#1c3558"/><circle cx="594.10" cy="419.60" r="2.9" fill="#3d8fcf"/><circle cx="600.43" cy="396.00" r="2.9" fill="#8dc159"/><circle cx="600.43" cy="449.50" r="2.9" fill="#1b8a4f"/><circle cx="606.76" cy="400.70" r="2.9" fill="#1c3558"/><circle cx="606.76" cy="421.40" r="2.9" fill="#e9dc2e"/><circle cx="606.76" cy="513.30" r="2.9" fill="#1b8a4f"/><circle cx="613.10" cy="382.30" r="2.9" fill="#1c3558"/><circle cx="613.10" cy="401.10" r="2.9" fill="#1b8a4f"/><circle cx="619.43" cy="435.20" r="2.9" fill="#1c3558"/><circle cx="619.43" cy="466.00" r="2.9" fill="#1b8a4f"/><circle cx="625.76" cy="370.90" r="2.9" fill="#1c3558"/><circle cx="625.76" cy="376.20" r="2.9" fill="#e9dc2e"/><circle cx="625.76" cy="383.90" r="2.9" fill="#3d8fcf"/><circle cx="625.76" cy="424.00" r="2.9" fill="#8dc159"/><circle cx="632.09" cy="371.90" r="2.9" fill="#3d8fcf"/><circle cx="632.09" cy="383.90" r="2.9" fill="#8dc159"/><circle cx="632.09" cy="398.20" r="2.9" fill="#3d8fcf"/><circle cx="632.09" cy="411.50" r="2.9" fill="#1c3558"/><circle cx="638.43" cy="433.00" r="2.9" fill="#1b8a4f"/><circle cx="644.76" cy="392.00" r="2.9" fill="#1c3558"/><circle cx="644.76" cy="422.60" r="2.9" fill="#e2606e"/><circle cx="644.76" cy="521.00" r="2.9" fill="#1b8a4f"/><circle cx="651.09" cy="399.10" r="2.9" fill="#1b8a4f"/><circle cx="657.42" cy="410.00" r="2.9" fill="#8dc159"/><circle cx="657.42" cy="437.20" r="2.9" fill="#1c3558"/><circle cx="663.76" cy="455.00" r="2.9" fill="#3d8fcf"/><circle cx="670.09" cy="366.50" r="2.9" fill="#1c3558"/><circle cx="670.09" cy="372.70" r="2.9" fill="#3d8fcf"/><circle cx="670.09" cy="430.10" r="2.9" fill="#1b8a4f"/><circle cx="670.09" cy="526.70" r="2.9" fill="#8dc159"/><circle cx="676.42" cy="371.70" r="2.9" fill="#8dc159"/><circle cx="676.42" cy="454.00" r="2.9" fill="#1b8a4f"/><circle cx="682.75" cy="366.80" r="2.9" fill="#1c3558"/><circle cx="682.75" cy="390.60" r="2.9" fill="#1b8a4f"/><circle cx="689.09" cy="423.90" r="2.9" fill="#e2606e"/><circle cx="689.09" cy="429.60" r="2.9" fill="#1c3558"/><circle cx="695.42" cy="385.50" r="2.9" fill="#1c3558"/><circle cx="695.42" cy="410.20" r="2.9" fill="#1b8a4f"/><circle cx="701.75" cy="390.10" r="2.9" fill="#1c3558"/><circle cx="701.75" cy="415.40" r="2.9" fill="#1b8a4f"/><circle cx="701.75" cy="473.30" r="2.9" fill="#e9dc2e"/><circle cx="708.08" cy="403.80" r="2.9" fill="#3d8fcf"/><circle cx="708.08" cy="468.30" r="2.9" fill="#1b8a4f"/><circle cx="708.08" cy="516.70" r="2.9" fill="#e2606e"/><circle cx="714.42" cy="369.20" r="2.9" fill="#3d8fcf"/><circle cx="714.42" cy="387.00" r="2.9" fill="#e2606e"/><circle cx="714.42" cy="422.50" r="2.9" fill="#1b8a4f"/><circle cx="720.75" cy="367.80" r="2.9" fill="#1c3558"/><circle cx="720.75" cy="403.50" r="2.9" fill="#1b8a4f"/><circle cx="727.08" cy="461.00" r="2.9" fill="#8dc159"/><circle cx="733.41" cy="401.60" r="2.9" fill="#1c3558"/><circle cx="733.41" cy="462.70" r="2.9" fill="#3d8fcf"/><circle cx="733.41" cy="468.30" r="2.9" fill="#1b8a4f"/><circle cx="739.75" cy="391.50" r="2.9" fill="#1c3558"/><circle cx="739.75" cy="490.00" r="2.9" fill="#1b8a4f"/><circle cx="746.08" cy="414.30" r="2.9" fill="#8dc159"/><circle cx="746.08" cy="441.00" r="2.9" fill="#1b8a4f"/><circle cx="752.41" cy="392.40" r="2.9" fill="#3d8fcf"/><circle cx="752.41" cy="422.00" r="2.9" fill="#1b8a4f"/><circle cx="752.41" cy="446.00" r="2.9" fill="#1c3558"/><circle cx="758.75" cy="381.00" r="2.9" fill="#e9dc2e"/><circle cx="758.75" cy="385.70" r="2.9" fill="#1c3558"/><circle cx="758.75" cy="446.60" r="2.9" fill="#1b8a4f"/><circle cx="765.08" cy="373.80" r="2.9" fill="#1b8a4f"/><circle cx="765.08" cy="379.40" r="2.9" fill="#3d8fcf"/><circle cx="771.41" cy="375.30" r="2.9" fill="#e9dc2e"/><circle cx="771.41" cy="398.00" r="2.9" fill="#3d8fcf"/><circle cx="771.41" cy="465.70" r="2.9" fill="#1b8a4f"/><circle cx="777.74" cy="399.40" r="2.9" fill="#1b8a4f"/><circle cx="777.74" cy="444.30" r="2.9" fill="#e2606e"/><circle cx="784.07" cy="405.30" r="2.9" fill="#8dc159"/><circle cx="784.07" cy="440.30" r="2.9" fill="#1c3558"/><circle cx="784.07" cy="515.00" r="2.9" fill="#1b8a4f"/><circle cx="790.41" cy="358.30" r="2.9" fill="#1c3558"/><circle cx="790.41" cy="437.30" r="2.9" fill="#1b8a4f"/><circle cx="796.74" cy="415.00" r="2.9" fill="#1c3558"/><circle cx="796.74" cy="435.50" r="2.9" fill="#e9dc2e"/><circle cx="796.74" cy="440.50" r="2.9" fill="#3d8fcf"/><circle cx="796.74" cy="460.00" r="2.9" fill="#8dc159"/><circle cx="803.07" cy="369.40" r="2.9" fill="#1c3558"/><circle cx="803.07" cy="399.20" r="2.9" fill="#1b8a4f"/><circle cx="809.40" cy="398.60" r="2.9" fill="#3d8fcf"/><circle cx="815.74" cy="382.50" r="2.9" fill="#e2606e"/><circle cx="815.74" cy="387.50" r="2.9" fill="#1b8a4f"/><circle cx="815.74" cy="407.50" r="2.9" fill="#1c3558"/><circle cx="822.07" cy="389.00" r="2.9" fill="#1b8a4f"/><circle cx="828.40" cy="374.00" r="2.9" fill="#1c3558"/><circle cx="828.40" cy="390.00" r="2.9" fill="#3d8fcf"/><circle cx="828.40" cy="403.00" r="2.9" fill="#e9dc2e"/><circle cx="834.73" cy="393.20" r="2.9" fill="#3d8fcf"/><circle cx="834.73" cy="400.50" r="2.9" fill="#8dc159"/><circle cx="834.73" cy="423.80" r="2.9" fill="#1b8a4f"/><circle cx="841.07" cy="381.00" r="2.9" fill="#1c3558"/><circle cx="841.07" cy="420.00" r="2.9" fill="#1b8a4f"/><circle cx="847.40" cy="368.50" r="2.9" fill="#1c3558"/><circle cx="847.40" cy="390.30" r="2.9" fill="#3d8fcf"/><circle cx="847.40" cy="462.70" r="2.9" fill="#1b8a4f"/><circle cx="853.73" cy="380.40" r="2.9" fill="#3d8fcf"/><circle cx="853.73" cy="418.30" r="2.9" fill="#e9dc2e"/><circle cx="853.73" cy="460.00" r="2.9" fill="#1b8a4f"/><circle cx="860.06" cy="362.20" r="2.9" fill="#1c3558"/><circle cx="860.06" cy="378.90" r="2.9" fill="#1b8a4f"/><circle cx="860.06" cy="381.70" r="2.9" fill="#3d8fcf"/><circle cx="860.06" cy="394.00" r="2.9" fill="#8dc159"/><circle cx="860.06" cy="396.80" r="2.9" fill="#e2606e"/><circle cx="866.40" cy="375.80" r="2.9" fill="#8dc159"/><circle cx="866.40" cy="396.70" r="2.9" fill="#3d8fcf"/><circle cx="866.40" cy="436.30" r="2.9" fill="#1c3558"/><circle cx="872.73" cy="475.00" r="2.9" fill="#1c3558"/><circle cx="879.06" cy="404.00" r="2.9" fill="#1b8a4f"/><circle cx="879.06" cy="419.00" r="2.9" fill="#1c3558"/><circle cx="891.73" cy="442.20" r="2.9" fill="#1c3558"/><circle cx="891.73" cy="516.70" r="2.9" fill="#1b8a4f"/><circle cx="898.06" cy="392.40" r="2.9" fill="#e9dc2e"/><circle cx="898.06" cy="415.50" r="2.9" fill="#3d8fcf"/><circle cx="898.06" cy="423.90" r="2.9" fill="#8dc159"/><circle cx="898.06" cy="431.20" r="2.9" fill="#3d8fcf"/><circle cx="910.72" cy="369.80" r="2.9" fill="#1c3558"/><circle cx="910.72" cy="408.50" r="2.9" fill="#1b8a4f"/><circle cx="910.72" cy="438.50" r="2.9" fill="#8dc159"/><circle cx="917.06" cy="396.30" r="2.9" fill="#1c3558"/><circle cx="917.06" cy="397.50" r="2.9" fill="#3d8fcf"/><circle cx="917.06" cy="431.00" r="2.9" fill="#3d8fcf"/><circle cx="923.39" cy="390.60" r="2.9" fill="#e2606e"/><circle cx="923.39" cy="477.30" r="2.9" fill="#3d8fcf"/><circle cx="923.39" cy="492.30" r="2.9" fill="#1b8a4f"/><circle cx="929.72" cy="420.60" r="2.9" fill="#1c3558"/><circle cx="929.72" cy="506.70" r="2.9" fill="#1b8a4f"/><circle cx="936.05" cy="396.50" r="2.9" fill="#3d8fcf"/><circle cx="936.05" cy="402.40" r="2.9" fill="#8dc159"/><circle cx="936.05" cy="414.30" r="2.9" fill="#e9dc2e"/><circle cx="942.39" cy="430.20" r="2.9" fill="#1c3558"/><circle cx="942.39" cy="473.30" r="2.9" fill="#1b8a4f"/><circle cx="948.72" cy="381.50" r="2.9" fill="#3d8fcf"/><circle cx="948.72" cy="393.60" r="2.9" fill="#3d8fcf"/><circle cx="948.72" cy="437.30" r="2.9" fill="#1b8a4f"/><circle cx="955.05" cy="383.60" r="2.9" fill="#1c3558"/><circle cx="955.05" cy="400.80" r="2.9" fill="#1b8a4f"/><circle cx="961.38" cy="375.70" r="2.9" fill="#1c3558"/><circle cx="961.38" cy="420.60" r="2.9" fill="#8dc159"/><circle cx="967.72" cy="403.30" r="2.9" fill="#1b8a4f"/><circle cx="967.72" cy="403.20" r="2.9" fill="#1c3558"/><circle cx="974.05" cy="404.60" r="2.9" fill="#1c3558"/><circle cx="974.05" cy="458.30" r="2.9" fill="#3d8fcf"/><circle cx="974.05" cy="493.30" r="2.9" fill="#1b8a4f"/><circle cx="980.38" cy="384.00" r="2.9" fill="#3d8fcf"/><circle cx="980.38" cy="389.00" r="2.9" fill="#3d8fcf"/><circle cx="980.38" cy="395.00" r="2.9" fill="#3d8fcf"/><circle cx="980.38" cy="525.70" r="2.9" fill="#1c3558"/><circle cx="986.71" cy="372.20" r="2.9" fill="#e9dc2e"/><circle cx="986.71" cy="380.50" r="2.9" fill="#e2606e"/><circle cx="986.71" cy="445.50" r="2.9" fill="#1b8a4f"/><circle cx="993.05" cy="486.70" r="2.9" fill="#1c3558"/><circle cx="999.38" cy="369.80" r="2.9" fill="#8dc159"/><circle cx="999.38" cy="423.30" r="2.9" fill="#e2606e"/><circle cx="999.38" cy="445.00" r="2.9" fill="#3d8fcf"/><circle cx="999.38" cy="458.30" r="2.9" fill="#1b8a4f"/><circle cx="1005.71" cy="373.50" r="2.9" fill="#e2606e"/><circle cx="1005.71" cy="401.60" r="2.9" fill="#8dc159"/><circle cx="1005.71" cy="411.10" r="2.9" fill="#e9dc2e"/><circle cx="1012.04" cy="447.00" r="2.9" fill="#1b8a4f"/><circle cx="1012.04" cy="451.70" r="2.9" fill="#1c3558"/><circle cx="1018.38" cy="415.10" r="2.9" fill="#1c3558"/><circle cx="1018.38" cy="431.70" r="2.9" fill="#e9dc2e"/><circle cx="1018.38" cy="438.50" r="2.9" fill="#3d8fcf"/><circle cx="1024.71" cy="385.50" r="2.9" fill="#e2606e"/><circle cx="1024.71" cy="392.00" r="2.9" fill="#3d8fcf"/><circle cx="1024.71" cy="433.30" r="2.9" fill="#e9dc2e"/><circle cx="1024.71" cy="479.30" r="2.9" fill="#8dc159"/><circle cx="1024.71" cy="497.70" r="2.9" fill="#3d8fcf"/><circle cx="1031.04" cy="378.20" r="2.9" fill="#1c3558"/><circle cx="1031.04" cy="387.00" r="2.9" fill="#e2606e"/><circle cx="1031.04" cy="393.00" r="2.9" fill="#3d8fcf"/><circle cx="1031.04" cy="486.70" r="2.9" fill="#1b8a4f"/><circle cx="1037.38" cy="395.50" r="2.9" fill="#8dc159"/><circle cx="1037.38" cy="459.30" r="2.9" fill="#3d8fcf"/><circle cx="1037.38" cy="513.30" r="2.9" fill="#1c3558"/><circle cx="1037.38" cy="517.30" r="2.9" fill="#1b8a4f"/><circle cx="1043.71" cy="392.00" r="2.9" fill="#3d8fcf"/><circle cx="1043.71" cy="401.60" r="2.9" fill="#1b8a4f"/><circle cx="1043.71" cy="409.00" r="2.9" fill="#e2606e"/><circle cx="1043.71" cy="431.50" r="2.9" fill="#8dc159"/><circle cx="1043.71" cy="502.70" r="2.9" fill="#1c3558"/><circle cx="1050.04" cy="382.40" r="2.9" fill="#3d8fcf"/><circle cx="1050.04" cy="408.50" r="2.9" fill="#1c3558"/><circle cx="1050.04" cy="416.70" r="2.9" fill="#1b8a4f"/><circle cx="1050.04" cy="421.00" r="2.9" fill="#e9dc2e"/><circle cx="1050.04" cy="437.50" r="2.9" fill="#3d8fcf"/><circle cx="1050.04" cy="486.70" r="2.9" fill="#3d8fcf"/><circle cx="1056.37" cy="389.80" r="2.9" fill="#1c3558"/><circle cx="1062.70" cy="381.70" r="2.9" fill="#8dc159"/><circle cx="1062.70" cy="415.20" r="2.9" fill="#1c3558"/><circle cx="1062.70" cy="462.70" r="2.9" fill="#3d8fcf"/><circle cx="1069.04" cy="376.10" r="2.9" fill="#3d8fcf"/><circle cx="1069.04" cy="409.40" r="2.9" fill="#1c3558"/><circle cx="1069.04" cy="436.60" r="2.9" fill="#1b8a4f"/><circle cx="1075.37" cy="387.50" r="2.9" fill="#3d8fcf"/><circle cx="1075.37" cy="439.50" r="2.9" fill="#1c3558"/><circle cx="1075.37" cy="468.30" r="2.9" fill="#1b8a4f"/><circle cx="1081.70" cy="406.50" r="2.9" fill="#8dc159"/><circle cx="1081.70" cy="423.30" r="2.9" fill="#1b8a4f"/><circle cx="1088.03" cy="400.60" r="2.9" fill="#3d8fcf"/><circle cx="1088.03" cy="407.20" r="2.9" fill="#8dc159"/><circle cx="1088.03" cy="435.80" r="2.9" fill="#1c3558"/><circle cx="1094.37" cy="365.00" r="2.9" fill="#e2606e"/><circle cx="1094.37" cy="466.00" r="2.9" fill="#8dc159"/><circle cx="1094.37" cy="505.00" r="2.9" fill="#1b8a4f"/><circle cx="1100.70" cy="376.80" r="2.9" fill="#3d8fcf"/><circle cx="1100.70" cy="405.30" r="2.9" fill="#3d8fcf"/><circle cx="1100.70" cy="414.90" r="2.9" fill="#e9dc2e"/><circle cx="1100.70" cy="435.00" r="2.9" fill="#3d8fcf"/><circle cx="1100.70" cy="462.70" r="2.9" fill="#8dc159"/></g>
<rect x="101.8" y="532.5" width="1000.5" height="33.5" rx="16.75" ry="16.75" fill="#0b5fae"/>
<text x="170.00" y="557.30" font-size="20.3" font-weight="bold" font-style="normal" fill="#fff" text-anchor="start" textLength="859.50" lengthAdjust="spacingAndGlyphs" stroke="#fff" stroke-width="0.35">CH was detected in 99.1% of the WBCs of the cancer patients analyzed, and in 93.6% of the non-cancer controls.</text>
<text x="-0.30" y="602.90" font-size="19.6" font-weight="normal" font-style="normal" fill="#111" text-anchor="start" textLength="337.80" lengthAdjust="spacingAndGlyphs">Reprinted by permission from Springer Nature:</text>
<text x="343.40" y="602.90" font-size="19.6" font-weight="normal" font-style="italic" fill="#111" text-anchor="start" textLength="116.70" lengthAdjust="spacingAndGlyphs">Nature Medicine</text>
<text x="460.30" y="602.90" font-size="19.6" font-weight="normal" font-style="normal" fill="#111" text-anchor="start" textLength="651.00" lengthAdjust="spacingAndGlyphs">. Pedram Razavi et al. High-intensity sequencing reveals the sources of plasma circulating</text>
<text x="-0.30" y="626.20" font-size="19.6" font-weight="normal" font-style="normal" fill="#111" text-anchor="start" textLength="342.80" lengthAdjust="spacingAndGlyphs">cell-free DNA variants, Copyright Nov. 25, 2019.</text>
</svg></body></html>
